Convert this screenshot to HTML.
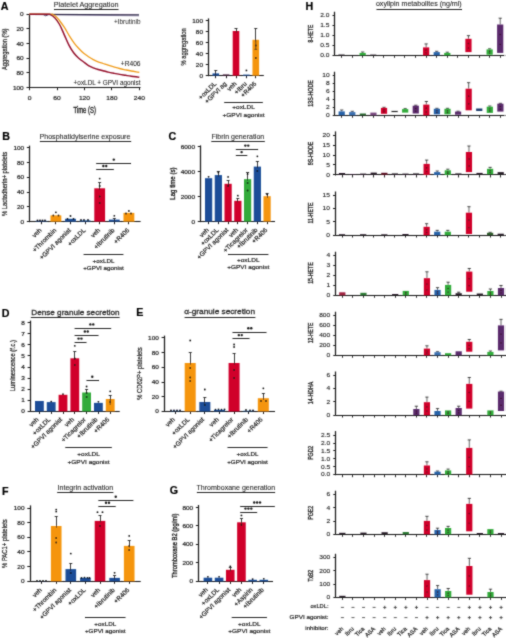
<!DOCTYPE html>
<html><head><meta charset="utf-8"><style>
html,body{margin:0;padding:0;background:#fff;width:520px;height:638px;overflow:hidden;}
svg{display:block;font-family:"Liberation Sans",sans-serif;}
</style></head><body>
<svg width="520" height="638" viewBox="0 0 520 638">
<defs><filter id="bl" x="0" y="0" width="100%" height="100%"><feConvolveMatrix order="3" kernelMatrix="0.03 0.09 0.03 0.09 0.52 0.09 0.03 0.09 0.03" divisor="1" edgeMode="duplicate" preserveAlpha="false"/></filter></defs>
<rect width="520" height="638" fill="#fff"/>
<g filter="url(#bl)">
<text transform="translate(0.80,9.60)" font-size="10.7" text-anchor="start" font-weight="bold" fill="#000" stroke="#000" stroke-width="0.2">A</text>
<text transform="translate(53.80,6.50)" font-size="7.0" text-anchor="start" font-weight="normal" fill="#2a2a2a" stroke="#2a2a2a" stroke-width="0.1" textLength="64.70" lengthAdjust="spacingAndGlyphs">Platelet Aggregation</text>
<line x1="54.00" y1="9.50" x2="118.50" y2="9.50" stroke="#222" stroke-width="1.0"/>
<line x1="29.50" y1="13.70" x2="29.50" y2="88.20" stroke="#1a1a1a" stroke-width="1.2"/>
<line x1="26.50" y1="14.50" x2="29.50" y2="14.50" stroke="#1a1a1a" stroke-width="1.0"/>
<text transform="translate(23.70,16.22) scale(1.15,1.0)" font-size="5.6" text-anchor="end" font-weight="normal" fill="#222" stroke="#222" stroke-width="0.2">0</text>
<line x1="26.50" y1="28.50" x2="29.50" y2="28.50" stroke="#1a1a1a" stroke-width="1.0"/>
<text transform="translate(23.70,30.90) scale(1.15,1.0)" font-size="5.6" text-anchor="end" font-weight="normal" fill="#222" stroke="#222" stroke-width="0.2">20</text>
<line x1="26.50" y1="43.50" x2="29.50" y2="43.50" stroke="#1a1a1a" stroke-width="1.0"/>
<text transform="translate(23.70,45.58) scale(1.15,1.0)" font-size="5.6" text-anchor="end" font-weight="normal" fill="#222" stroke="#222" stroke-width="0.2">40</text>
<line x1="26.50" y1="58.50" x2="29.50" y2="58.50" stroke="#1a1a1a" stroke-width="1.0"/>
<text transform="translate(23.70,60.26) scale(1.15,1.0)" font-size="5.6" text-anchor="end" font-weight="normal" fill="#222" stroke="#222" stroke-width="0.2">60</text>
<line x1="26.50" y1="72.50" x2="29.50" y2="72.50" stroke="#1a1a1a" stroke-width="1.0"/>
<text transform="translate(23.70,74.94) scale(1.15,1.0)" font-size="5.6" text-anchor="end" font-weight="normal" fill="#222" stroke="#222" stroke-width="0.2">80</text>
<line x1="26.50" y1="87.50" x2="29.50" y2="87.50" stroke="#1a1a1a" stroke-width="1.0"/>
<text transform="translate(23.70,89.62) scale(1.15,1.0)" font-size="5.6" text-anchor="end" font-weight="normal" fill="#222" stroke="#222" stroke-width="0.2">100</text>
<text transform="translate(6.60,49.30) rotate(-90)" font-size="7.4" text-anchor="middle" font-weight="normal" fill="#222" stroke="#222" stroke-width="0.22" textLength="41.60" lengthAdjust="spacingAndGlyphs">Aggregation (%)</text>
<line x1="29.50" y1="87.50" x2="140.50" y2="87.50" stroke="#1a1a1a" stroke-width="1.2"/>
<line x1="29.50" y1="87.60" x2="29.50" y2="90.20" stroke="#1a1a1a" stroke-width="1.0"/>
<text transform="translate(29.60,100.00) scale(1.15,1.0)" font-size="5.8" text-anchor="middle" font-weight="normal" fill="#222" stroke="#222" stroke-width="0.2">0</text>
<line x1="57.50" y1="87.60" x2="57.50" y2="90.20" stroke="#1a1a1a" stroke-width="1.0"/>
<text transform="translate(57.03,100.00) scale(1.15,1.0)" font-size="5.8" text-anchor="middle" font-weight="normal" fill="#222" stroke="#222" stroke-width="0.2">60</text>
<line x1="84.50" y1="87.60" x2="84.50" y2="90.20" stroke="#1a1a1a" stroke-width="1.0"/>
<text transform="translate(84.45,100.00) scale(1.15,1.0)" font-size="5.8" text-anchor="middle" font-weight="normal" fill="#222" stroke="#222" stroke-width="0.2">120</text>
<line x1="111.50" y1="87.60" x2="111.50" y2="90.20" stroke="#1a1a1a" stroke-width="1.0"/>
<text transform="translate(111.88,100.00) scale(1.15,1.0)" font-size="5.8" text-anchor="middle" font-weight="normal" fill="#222" stroke="#222" stroke-width="0.2">180</text>
<line x1="139.50" y1="87.60" x2="139.50" y2="90.20" stroke="#1a1a1a" stroke-width="1.0"/>
<text transform="translate(139.30,100.00) scale(1.15,1.0)" font-size="5.8" text-anchor="middle" font-weight="normal" fill="#222" stroke="#222" stroke-width="0.2">240</text>
<text transform="translate(84.70,112.60) scale(0.69,1.0)" font-size="8.6" text-anchor="middle" font-weight="normal" fill="#222" stroke="#222" stroke-width="0.35">Time (S)</text>
<polyline points="29.6,14.5 60,14.8 139,15.9" fill="none" stroke="#a49cbc" stroke-width="1.0"/>
<polyline points="29.6,14.4 139,14.9" fill="none" stroke="#2a2244" stroke-width="1.1"/>
<path d="M43.2,14.5 Q45.8,17.2 48.4,14.5" fill="none" stroke="#3a3058" stroke-width="0.9"/>
<path d="M29.60,14.20 C33.00,14.22 46.12,14.25 50.00,14.30 C53.88,14.35 51.82,14.07 52.90,14.50 C53.98,14.93 55.38,15.87 56.50,16.90 C57.62,17.93 58.28,18.95 59.60,20.70 C60.92,22.45 62.80,24.92 64.40,27.40 C66.00,29.88 67.60,33.03 69.20,35.60 C70.80,38.17 72.40,40.65 74.00,42.80 C75.60,44.95 77.18,46.75 78.80,48.50 C80.42,50.25 82.08,51.93 83.70,53.30 C85.32,54.67 86.90,55.65 88.50,56.70 C90.10,57.75 91.70,58.73 93.30,59.60 C94.90,60.47 96.48,61.25 98.10,61.90 C99.72,62.55 101.33,62.95 103.00,63.50 C104.67,64.05 106.30,64.63 108.10,65.20 C109.90,65.77 111.88,66.35 113.80,66.90 C115.72,67.45 117.67,68.02 119.60,68.50 C121.53,68.98 123.47,69.38 125.40,69.80 C127.33,70.22 129.08,70.62 131.20,71.00 C133.32,71.38 136.75,71.88 138.10,72.10 C139.45,72.32 139.10,72.27 139.30,72.30" fill="none" stroke="#f09c1c" stroke-width="1.3" stroke-linejoin="round"/>
<path d="M29.60,14.20 C32.67,14.22 44.60,14.27 48.00,14.30 C51.40,14.33 48.87,13.82 50.00,14.40 C51.13,14.98 53.20,16.12 54.80,17.80 C56.40,19.48 58.00,21.62 59.60,24.50 C61.20,27.38 62.80,31.57 64.40,35.10 C66.00,38.63 67.60,42.67 69.20,45.70 C70.80,48.73 72.40,51.22 74.00,53.30 C75.60,55.38 77.18,56.75 78.80,58.20 C80.42,59.65 82.08,60.77 83.70,62.00 C85.32,63.23 86.90,64.62 88.50,65.60 C90.10,66.58 91.70,67.25 93.30,67.90 C94.90,68.55 96.48,69.03 98.10,69.50 C99.72,69.97 101.33,70.27 103.00,70.70 C104.67,71.13 106.30,71.67 108.10,72.10 C109.90,72.53 111.88,72.92 113.80,73.30 C115.72,73.68 117.67,74.07 119.60,74.40 C121.53,74.73 123.47,75.00 125.40,75.30 C127.33,75.60 129.08,75.90 131.20,76.20 C133.32,76.50 136.75,76.92 138.10,77.10 C139.45,77.28 139.10,77.27 139.30,77.30" fill="none" stroke="#930a28" stroke-width="1.45" stroke-linejoin="round"/>
<text transform="translate(140.50,23.60) scale(1.02,1.0)" font-size="6.3" text-anchor="end" font-weight="normal" fill="#222">+Ibrutinib</text>
<text transform="translate(140.50,65.80) scale(1.02,1.0)" font-size="6.5" text-anchor="end" font-weight="normal" fill="#222" stroke="#222" stroke-width="0.05">+R406</text>
<text transform="translate(140.50,85.20)" font-size="6.4" text-anchor="end" font-weight="normal" fill="#222" stroke="#222" stroke-width="0.05">+oxLDL + GPVI agonist</text>
<line x1="208.50" y1="18.40" x2="208.50" y2="76.20" stroke="#1a1a1a" stroke-width="1.2"/>
<line x1="205.80" y1="75.50" x2="208.80" y2="75.50" stroke="#1a1a1a" stroke-width="1.0"/>
<text transform="translate(203.00,77.62) scale(1.15,1.0)" font-size="5.6" text-anchor="end" font-weight="normal" fill="#222" stroke="#222" stroke-width="0.2">0</text>
<line x1="205.80" y1="64.50" x2="208.80" y2="64.50" stroke="#1a1a1a" stroke-width="1.0"/>
<text transform="translate(203.00,66.62) scale(1.15,1.0)" font-size="5.6" text-anchor="end" font-weight="normal" fill="#222" stroke="#222" stroke-width="0.2">20</text>
<line x1="205.80" y1="53.50" x2="208.80" y2="53.50" stroke="#1a1a1a" stroke-width="1.0"/>
<text transform="translate(203.00,55.62) scale(1.15,1.0)" font-size="5.6" text-anchor="end" font-weight="normal" fill="#222" stroke="#222" stroke-width="0.2">40</text>
<line x1="205.80" y1="42.50" x2="208.80" y2="42.50" stroke="#1a1a1a" stroke-width="1.0"/>
<text transform="translate(203.00,44.62) scale(1.15,1.0)" font-size="5.6" text-anchor="end" font-weight="normal" fill="#222" stroke="#222" stroke-width="0.2">60</text>
<line x1="205.80" y1="31.50" x2="208.80" y2="31.50" stroke="#1a1a1a" stroke-width="1.0"/>
<text transform="translate(203.00,33.62) scale(1.15,1.0)" font-size="5.6" text-anchor="end" font-weight="normal" fill="#222" stroke="#222" stroke-width="0.2">80</text>
<line x1="205.80" y1="20.50" x2="208.80" y2="20.50" stroke="#1a1a1a" stroke-width="1.0"/>
<text transform="translate(203.00,22.62) scale(1.15,1.0)" font-size="5.6" text-anchor="end" font-weight="normal" fill="#222" stroke="#222" stroke-width="0.2">100</text>
<text transform="translate(185.80,46.90) rotate(-90)" font-size="7.4" text-anchor="middle" font-weight="normal" fill="#222" stroke="#222" stroke-width="0.22" textLength="37.40" lengthAdjust="spacingAndGlyphs">% aggregation</text>
<line x1="208.80" y1="75.50" x2="263.80" y2="75.50" stroke="#1a1a1a" stroke-width="1.2"/>
<line x1="215.50" y1="75.60" x2="215.50" y2="78.20" stroke="#1a1a1a" stroke-width="1.0"/>
<line x1="226.50" y1="75.60" x2="226.50" y2="78.20" stroke="#1a1a1a" stroke-width="1.0"/>
<line x1="236.50" y1="75.60" x2="236.50" y2="78.20" stroke="#1a1a1a" stroke-width="1.0"/>
<line x1="246.50" y1="75.60" x2="246.50" y2="78.20" stroke="#1a1a1a" stroke-width="1.0"/>
<line x1="255.50" y1="75.60" x2="255.50" y2="78.20" stroke="#1a1a1a" stroke-width="1.0"/>
<rect x="212.50" y="73.40" width="6.60" height="2.20" fill="#1a4e98"/>
<line x1="215.50" y1="70.20" x2="215.50" y2="74.90" stroke="#222" stroke-width="0.9"/>
<line x1="214.30" y1="70.50" x2="217.30" y2="70.50" stroke="#222" stroke-width="0.9"/>
<rect x="222.80" y="74.40" width="6.60" height="1.20" fill="#4a1f3e"/>
<rect x="232.70" y="31.00" width="6.60" height="44.60" fill="#d0062c"/>
<line x1="236.50" y1="28.60" x2="236.50" y2="32.50" stroke="#222" stroke-width="0.9"/>
<line x1="234.50" y1="28.50" x2="237.50" y2="28.50" stroke="#222" stroke-width="0.9"/>
<rect x="243.10" y="74.60" width="6.60" height="1.00" fill="#1a4e98"/>
<circle cx="246.40" cy="70.40" r="0.9" fill="#111"/>
<rect x="252.50" y="39.80" width="6.60" height="35.80" fill="#f5950a"/>
<line x1="255.50" y1="28.60" x2="255.50" y2="41.30" stroke="#222" stroke-width="0.9"/>
<line x1="254.30" y1="28.50" x2="257.30" y2="28.50" stroke="#222" stroke-width="0.9"/>
<circle cx="255.80" cy="45.50" r="0.9" fill="#111"/>
<circle cx="255.80" cy="58.00" r="0.9" fill="#111"/>
<line x1="255.80" y1="39.80" x2="255.80" y2="49.40" stroke="#222" stroke-width="0.7"/>
<line x1="254.40" y1="49.40" x2="257.20" y2="49.40" stroke="#222" stroke-width="0.7"/>
<text transform="translate(216.70,84.20) rotate(-45)" font-size="6.4" text-anchor="end" font-weight="normal" fill="#222" stroke="#222" stroke-width="0.2">+oxLDL</text>
<text transform="translate(227.00,84.20) rotate(-45)" font-size="6.4" text-anchor="end" font-weight="normal" fill="#222" stroke="#222" stroke-width="0.2">+GPVI ag</text>
<text transform="translate(236.90,84.20) rotate(-45)" font-size="6.4" text-anchor="end" font-weight="normal" fill="#222" stroke="#222" stroke-width="0.2">veh</text>
<text transform="translate(247.30,84.20) rotate(-45)" font-size="6.4" text-anchor="end" font-weight="normal" fill="#222" stroke="#222" stroke-width="0.2">+Ibru</text>
<text transform="translate(256.70,84.20) rotate(-45)" font-size="6.4" text-anchor="end" font-weight="normal" fill="#222" stroke="#222" stroke-width="0.2">+R406</text>
<line x1="224.20" y1="102.50" x2="262.80" y2="102.50" stroke="#222" stroke-width="1.1"/>
<text transform="translate(243.50,109.40) scale(1.05,1.0)" font-size="6.2" text-anchor="middle" font-weight="normal" fill="#222" stroke="#222" stroke-width="0.2">+oxLDL</text>
<text transform="translate(243.50,116.60) scale(1.05,1.0)" font-size="6.2" text-anchor="middle" font-weight="normal" fill="#222" stroke="#222" stroke-width="0.2">+GPVI agonist</text>
<text transform="translate(2.20,139.60)" font-size="10.7" text-anchor="start" font-weight="bold" fill="#000" stroke="#000" stroke-width="0.2">B</text>
<text transform="translate(39.50,138.60)" font-size="7.0" text-anchor="start" font-weight="normal" fill="#2a2a2a" stroke="#2a2a2a" stroke-width="0.1" textLength="90.90" lengthAdjust="spacingAndGlyphs">Phosphatidylserine exposure</text>
<line x1="39.90" y1="141.50" x2="131.20" y2="141.50" stroke="#222" stroke-width="1.0"/>
<line x1="29.50" y1="145.60" x2="29.50" y2="222.20" stroke="#1a1a1a" stroke-width="1.2"/>
<line x1="26.90" y1="221.50" x2="29.90" y2="221.50" stroke="#1a1a1a" stroke-width="1.0"/>
<text transform="translate(24.10,223.62) scale(1.15,1.0)" font-size="5.6" text-anchor="end" font-weight="normal" fill="#222" stroke="#222" stroke-width="0.2">0</text>
<line x1="26.90" y1="206.50" x2="29.90" y2="206.50" stroke="#1a1a1a" stroke-width="1.0"/>
<text transform="translate(24.10,208.88) scale(1.15,1.0)" font-size="5.6" text-anchor="end" font-weight="normal" fill="#222" stroke="#222" stroke-width="0.2">20</text>
<line x1="26.90" y1="192.50" x2="29.90" y2="192.50" stroke="#1a1a1a" stroke-width="1.0"/>
<text transform="translate(24.10,194.14) scale(1.15,1.0)" font-size="5.6" text-anchor="end" font-weight="normal" fill="#222" stroke="#222" stroke-width="0.2">40</text>
<line x1="26.90" y1="177.50" x2="29.90" y2="177.50" stroke="#1a1a1a" stroke-width="1.0"/>
<text transform="translate(24.10,179.40) scale(1.15,1.0)" font-size="5.6" text-anchor="end" font-weight="normal" fill="#222" stroke="#222" stroke-width="0.2">60</text>
<line x1="26.90" y1="162.50" x2="29.90" y2="162.50" stroke="#1a1a1a" stroke-width="1.0"/>
<text transform="translate(24.10,164.66) scale(1.15,1.0)" font-size="5.6" text-anchor="end" font-weight="normal" fill="#222" stroke="#222" stroke-width="0.2">80</text>
<line x1="26.90" y1="147.50" x2="29.90" y2="147.50" stroke="#1a1a1a" stroke-width="1.0"/>
<text transform="translate(24.10,149.92) scale(1.15,1.0)" font-size="5.6" text-anchor="end" font-weight="normal" fill="#222" stroke="#222" stroke-width="0.2">100</text>
<text transform="translate(6.60,183.90) rotate(-90)" font-size="7.2" text-anchor="middle" font-weight="normal" fill="#222" stroke="#222" stroke-width="0.22" textLength="64.40" lengthAdjust="spacingAndGlyphs">% Lactadherin+ platelets</text>
<line x1="29.90" y1="221.50" x2="140.60" y2="221.50" stroke="#1a1a1a" stroke-width="1.2"/>
<line x1="41.50" y1="221.60" x2="41.50" y2="224.20" stroke="#1a1a1a" stroke-width="1.0"/>
<line x1="55.50" y1="221.60" x2="55.50" y2="224.20" stroke="#1a1a1a" stroke-width="1.0"/>
<line x1="70.50" y1="221.60" x2="70.50" y2="224.20" stroke="#1a1a1a" stroke-width="1.0"/>
<line x1="85.50" y1="221.60" x2="85.50" y2="224.20" stroke="#1a1a1a" stroke-width="1.0"/>
<line x1="99.50" y1="221.60" x2="99.50" y2="224.20" stroke="#1a1a1a" stroke-width="1.0"/>
<line x1="114.50" y1="221.60" x2="114.50" y2="224.20" stroke="#1a1a1a" stroke-width="1.0"/>
<line x1="128.50" y1="221.60" x2="128.50" y2="224.20" stroke="#1a1a1a" stroke-width="1.0"/>
<rect x="35.90" y="220.80" width="10.80" height="0.80" fill="#1a4e98"/>
<circle cx="37.50" cy="220.50" r="0.9" fill="#111"/>
<circle cx="40.00" cy="220.50" r="0.9" fill="#111"/>
<circle cx="42.50" cy="220.50" r="0.9" fill="#111"/>
<circle cx="45.00" cy="220.50" r="0.9" fill="#111"/>
<rect x="50.50" y="215.40" width="10.80" height="6.20" fill="#f5950a"/>
<circle cx="55.90" cy="212.30" r="0.9" fill="#111"/>
<circle cx="53.30" cy="215.50" r="0.9" fill="#111"/>
<circle cx="58.50" cy="215.50" r="0.9" fill="#111"/>
<rect x="65.10" y="218.80" width="10.80" height="2.80" fill="#1a4e98"/>
<circle cx="70.50" cy="216.00" r="0.9" fill="#111"/>
<circle cx="67.50" cy="219.00" r="0.9" fill="#111"/>
<circle cx="73.50" cy="219.00" r="0.9" fill="#111"/>
<rect x="79.70" y="220.40" width="10.80" height="1.20" fill="#1a4e98"/>
<circle cx="81.00" cy="220.00" r="0.9" fill="#111"/>
<circle cx="84.00" cy="220.00" r="0.9" fill="#111"/>
<circle cx="88.00" cy="220.00" r="0.9" fill="#111"/>
<rect x="94.30" y="188.30" width="10.80" height="33.30" fill="#d0062c"/>
<line x1="99.50" y1="182.80" x2="99.50" y2="189.80" stroke="#222" stroke-width="0.9"/>
<line x1="98.20" y1="182.50" x2="101.20" y2="182.50" stroke="#222" stroke-width="0.9"/>
<circle cx="99.70" cy="178.60" r="0.9" fill="#111"/>
<circle cx="99.70" cy="186.00" r="0.9" fill="#111"/>
<circle cx="99.70" cy="196.50" r="0.9" fill="#111"/>
<circle cx="99.70" cy="203.00" r="0.9" fill="#111"/>
<rect x="108.90" y="219.60" width="10.80" height="2.00" fill="#1a4e98"/>
<line x1="114.50" y1="218.00" x2="114.50" y2="221.10" stroke="#222" stroke-width="0.9"/>
<line x1="112.80" y1="218.50" x2="115.80" y2="218.50" stroke="#222" stroke-width="0.9"/>
<circle cx="114.30" cy="215.80" r="0.9" fill="#111"/>
<rect x="123.50" y="212.90" width="10.80" height="8.70" fill="#f5950a"/>
<circle cx="128.90" cy="211.00" r="0.9" fill="#111"/>
<circle cx="126.00" cy="213.50" r="0.9" fill="#111"/>
<circle cx="131.00" cy="213.50" r="0.9" fill="#111"/>
<line x1="96.20" y1="163.50" x2="131.00" y2="163.50" stroke="#222" stroke-width="1.0"/>
<circle cx="113.80" cy="159.60" r="1.2" fill="#1a1a1a"/>
<line x1="96.20" y1="169.50" x2="113.80" y2="169.50" stroke="#222" stroke-width="1.0"/>
<circle cx="103.35" cy="166.00" r="1.2" fill="#1a1a1a"/>
<circle cx="106.25" cy="166.00" r="1.2" fill="#1a1a1a"/>
<text transform="translate(42.10,230.80) rotate(-45)" font-size="6.4" text-anchor="end" font-weight="normal" fill="#222" stroke="#222" stroke-width="0.2">veh</text>
<text transform="translate(56.70,230.80) rotate(-45)" font-size="6.4" text-anchor="end" font-weight="normal" fill="#222" stroke="#222" stroke-width="0.2">+Thrombin</text>
<text transform="translate(71.30,230.80) rotate(-45)" font-size="6.4" text-anchor="end" font-weight="normal" fill="#222" stroke="#222" stroke-width="0.2">+GPVI agonist</text>
<text transform="translate(85.90,230.80) rotate(-45)" font-size="6.4" text-anchor="end" font-weight="normal" fill="#222" stroke="#222" stroke-width="0.2">+oxLDL</text>
<text transform="translate(100.50,230.80) rotate(-45)" font-size="6.4" text-anchor="end" font-weight="normal" fill="#222" stroke="#222" stroke-width="0.2">veh</text>
<text transform="translate(115.10,230.80) rotate(-45)" font-size="6.4" text-anchor="end" font-weight="normal" fill="#222" stroke="#222" stroke-width="0.2">+Ibrutinib</text>
<text transform="translate(129.70,230.80) rotate(-45)" font-size="6.4" text-anchor="end" font-weight="normal" fill="#222" stroke="#222" stroke-width="0.2">+R406</text>
<line x1="83.60" y1="254.50" x2="123.40" y2="254.50" stroke="#222" stroke-width="1.1"/>
<text transform="translate(103.50,262.90) scale(1.05,1.0)" font-size="6.0" text-anchor="middle" font-weight="normal" fill="#222" stroke="#222" stroke-width="0.2">+oxLDL</text>
<text transform="translate(103.50,270.20) scale(1.05,1.0)" font-size="6.0" text-anchor="middle" font-weight="normal" fill="#222" stroke="#222" stroke-width="0.2">+GPVI agonist</text>
<text transform="translate(168.60,140.20)" font-size="10.7" text-anchor="start" font-weight="bold" fill="#000" stroke="#000" stroke-width="0.2">C</text>
<text transform="translate(211.50,138.60)" font-size="7.0" text-anchor="start" font-weight="normal" fill="#2a2a2a" stroke="#2a2a2a" stroke-width="0.1" textLength="52.70" lengthAdjust="spacingAndGlyphs">Fibrin generation</text>
<line x1="211.30" y1="141.50" x2="264.80" y2="141.50" stroke="#222" stroke-width="1.0"/>
<line x1="200.50" y1="145.40" x2="200.50" y2="222.10" stroke="#1a1a1a" stroke-width="1.2"/>
<line x1="197.80" y1="221.50" x2="200.80" y2="221.50" stroke="#1a1a1a" stroke-width="1.0"/>
<text transform="translate(195.00,223.52) scale(1.15,1.0)" font-size="5.6" text-anchor="end" font-weight="normal" fill="#222" stroke="#222" stroke-width="0.2">0</text>
<line x1="197.80" y1="196.50" x2="200.80" y2="196.50" stroke="#1a1a1a" stroke-width="1.0"/>
<text transform="translate(195.00,198.65) scale(1.15,1.0)" font-size="5.6" text-anchor="end" font-weight="normal" fill="#222" stroke="#222" stroke-width="0.2">2000</text>
<line x1="197.80" y1="171.50" x2="200.80" y2="171.50" stroke="#1a1a1a" stroke-width="1.0"/>
<text transform="translate(195.00,173.78) scale(1.15,1.0)" font-size="5.6" text-anchor="end" font-weight="normal" fill="#222" stroke="#222" stroke-width="0.2">4000</text>
<line x1="197.80" y1="146.50" x2="200.80" y2="146.50" stroke="#1a1a1a" stroke-width="1.0"/>
<text transform="translate(195.00,148.92) scale(1.15,1.0)" font-size="5.6" text-anchor="end" font-weight="normal" fill="#222" stroke="#222" stroke-width="0.2">6000</text>
<text transform="translate(175.30,183.60) rotate(-90)" font-size="7.9" text-anchor="middle" font-weight="normal" fill="#222" stroke="#222" stroke-width="0.35" textLength="32.20" lengthAdjust="spacingAndGlyphs">Lag time (s)</text>
<line x1="200.80" y1="221.50" x2="275.00" y2="221.50" stroke="#1a1a1a" stroke-width="1.2"/>
<line x1="208.50" y1="221.50" x2="208.50" y2="224.10" stroke="#1a1a1a" stroke-width="1.0"/>
<line x1="218.50" y1="221.50" x2="218.50" y2="224.10" stroke="#1a1a1a" stroke-width="1.0"/>
<line x1="228.50" y1="221.50" x2="228.50" y2="224.10" stroke="#1a1a1a" stroke-width="1.0"/>
<line x1="237.50" y1="221.50" x2="237.50" y2="224.10" stroke="#1a1a1a" stroke-width="1.0"/>
<line x1="247.50" y1="221.50" x2="247.50" y2="224.10" stroke="#1a1a1a" stroke-width="1.0"/>
<line x1="257.50" y1="221.50" x2="257.50" y2="224.10" stroke="#1a1a1a" stroke-width="1.0"/>
<line x1="267.50" y1="221.50" x2="267.50" y2="224.10" stroke="#1a1a1a" stroke-width="1.0"/>
<rect x="205.00" y="178.20" width="7.20" height="43.30" fill="#1a4e98"/>
<circle cx="208.60" cy="176.80" r="0.9" fill="#111"/>
<rect x="214.75" y="175.10" width="7.20" height="46.40" fill="#1a4e98"/>
<line x1="218.50" y1="171.60" x2="218.50" y2="176.60" stroke="#222" stroke-width="0.9"/>
<line x1="216.85" y1="171.50" x2="219.85" y2="171.50" stroke="#222" stroke-width="0.9"/>
<circle cx="218.35" cy="172.50" r="0.9" fill="#111"/>
<rect x="224.50" y="183.80" width="7.20" height="37.70" fill="#d0062c"/>
<line x1="228.50" y1="180.30" x2="228.50" y2="185.30" stroke="#222" stroke-width="0.9"/>
<line x1="226.60" y1="180.50" x2="229.60" y2="180.50" stroke="#222" stroke-width="0.9"/>
<circle cx="228.10" cy="176.90" r="0.9" fill="#111"/>
<circle cx="228.10" cy="186.00" r="0.9" fill="#111"/>
<rect x="234.25" y="200.80" width="7.20" height="20.70" fill="#d0062c"/>
<line x1="237.50" y1="198.20" x2="237.50" y2="202.30" stroke="#222" stroke-width="0.9"/>
<line x1="236.35" y1="198.50" x2="239.35" y2="198.50" stroke="#222" stroke-width="0.9"/>
<circle cx="237.85" cy="195.70" r="0.9" fill="#111"/>
<rect x="244.00" y="179.20" width="7.20" height="42.30" fill="#30ab3a"/>
<line x1="247.50" y1="172.80" x2="247.50" y2="180.70" stroke="#222" stroke-width="0.9"/>
<line x1="246.10" y1="172.50" x2="249.10" y2="172.50" stroke="#222" stroke-width="0.9"/>
<circle cx="247.60" cy="174.00" r="0.9" fill="#111"/>
<circle cx="247.60" cy="183.00" r="0.9" fill="#111"/>
<circle cx="247.60" cy="190.50" r="0.9" fill="#111"/>
<rect x="253.75" y="166.60" width="7.20" height="54.90" fill="#1a4e98"/>
<line x1="257.50" y1="161.20" x2="257.50" y2="168.10" stroke="#222" stroke-width="0.9"/>
<line x1="255.85" y1="161.50" x2="258.85" y2="161.50" stroke="#222" stroke-width="0.9"/>
<circle cx="257.35" cy="156.30" r="0.9" fill="#111"/>
<circle cx="257.35" cy="171.00" r="0.9" fill="#111"/>
<rect x="263.50" y="196.20" width="7.20" height="25.30" fill="#f5950a"/>
<line x1="267.50" y1="193.80" x2="267.50" y2="197.70" stroke="#222" stroke-width="0.9"/>
<line x1="265.60" y1="193.50" x2="268.60" y2="193.50" stroke="#222" stroke-width="0.9"/>
<circle cx="267.10" cy="194.50" r="0.9" fill="#111"/>
<line x1="235.80" y1="149.50" x2="258.10" y2="149.50" stroke="#222" stroke-width="1.0"/>
<circle cx="245.35" cy="145.60" r="1.2" fill="#1a1a1a"/>
<circle cx="248.25" cy="145.60" r="1.2" fill="#1a1a1a"/>
<line x1="235.80" y1="155.50" x2="247.30" y2="155.50" stroke="#222" stroke-width="1.0"/>
<circle cx="241.60" cy="152.10" r="1.2" fill="#1a1a1a"/>
<text transform="translate(209.20,230.40) rotate(-45)" font-size="6.4" text-anchor="end" font-weight="normal" fill="#222" stroke="#222" stroke-width="0.2">veh</text>
<text transform="translate(218.95,230.40) rotate(-45)" font-size="6.4" text-anchor="end" font-weight="normal" fill="#222" stroke="#222" stroke-width="0.2">+oxLDL</text>
<text transform="translate(228.70,230.40) rotate(-45)" font-size="6.4" text-anchor="end" font-weight="normal" fill="#222" stroke="#222" stroke-width="0.2">+GPVI agonist</text>
<text transform="translate(238.45,230.40) rotate(-45)" font-size="6.4" text-anchor="end" font-weight="normal" fill="#222" stroke="#222" stroke-width="0.2">veh</text>
<text transform="translate(248.20,230.40) rotate(-45)" font-size="6.4" text-anchor="end" font-weight="normal" fill="#222" stroke="#222" stroke-width="0.2">+Ticagrelor</text>
<text transform="translate(257.95,230.40) rotate(-45)" font-size="6.4" text-anchor="end" font-weight="normal" fill="#222" stroke="#222" stroke-width="0.2">+Ibrutinib</text>
<text transform="translate(267.70,230.40) rotate(-45)" font-size="6.4" text-anchor="end" font-weight="normal" fill="#222" stroke="#222" stroke-width="0.2">+R406</text>
<line x1="228.00" y1="254.50" x2="268.40" y2="254.50" stroke="#222" stroke-width="1.1"/>
<text transform="translate(248.20,262.20) scale(1.05,1.0)" font-size="6.2" text-anchor="middle" font-weight="normal" fill="#222" stroke="#222" stroke-width="0.2">+oxLDL</text>
<text transform="translate(248.20,269.00) scale(1.05,1.0)" font-size="6.2" text-anchor="middle" font-weight="normal" fill="#222" stroke="#222" stroke-width="0.2">+GPVI agonist</text>
<text transform="translate(1.80,316.80)" font-size="10.7" text-anchor="start" font-weight="bold" fill="#000" stroke="#000" stroke-width="0.2">D</text>
<text transform="translate(31.30,314.60)" font-size="8.0" text-anchor="start" font-weight="normal" fill="#2a2a2a" stroke="#2a2a2a" stroke-width="0.3" textLength="88.30" lengthAdjust="spacingAndGlyphs">Dense granule secretion</text>
<line x1="30.80" y1="317.50" x2="119.60" y2="317.50" stroke="#222" stroke-width="1.0"/>
<line x1="30.50" y1="320.60" x2="30.50" y2="411.90" stroke="#1a1a1a" stroke-width="1.2"/>
<line x1="27.60" y1="411.50" x2="30.60" y2="411.50" stroke="#1a1a1a" stroke-width="1.0"/>
<text transform="translate(24.80,413.32) scale(1.15,1.0)" font-size="5.6" text-anchor="end" font-weight="normal" fill="#222" stroke="#222" stroke-width="0.2">0</text>
<line x1="27.60" y1="400.50" x2="30.60" y2="400.50" stroke="#1a1a1a" stroke-width="1.0"/>
<text transform="translate(24.80,402.24) scale(1.15,1.0)" font-size="5.6" text-anchor="end" font-weight="normal" fill="#222" stroke="#222" stroke-width="0.2">1</text>
<line x1="27.60" y1="389.50" x2="30.60" y2="389.50" stroke="#1a1a1a" stroke-width="1.0"/>
<text transform="translate(24.80,391.17) scale(1.15,1.0)" font-size="5.6" text-anchor="end" font-weight="normal" fill="#222" stroke="#222" stroke-width="0.2">2</text>
<line x1="27.60" y1="378.50" x2="30.60" y2="378.50" stroke="#1a1a1a" stroke-width="1.0"/>
<text transform="translate(24.80,380.09) scale(1.15,1.0)" font-size="5.6" text-anchor="end" font-weight="normal" fill="#222" stroke="#222" stroke-width="0.2">3</text>
<line x1="27.60" y1="367.50" x2="30.60" y2="367.50" stroke="#1a1a1a" stroke-width="1.0"/>
<text transform="translate(24.80,369.02) scale(1.15,1.0)" font-size="5.6" text-anchor="end" font-weight="normal" fill="#222" stroke="#222" stroke-width="0.2">4</text>
<line x1="27.60" y1="355.50" x2="30.60" y2="355.50" stroke="#1a1a1a" stroke-width="1.0"/>
<text transform="translate(24.80,357.94) scale(1.15,1.0)" font-size="5.6" text-anchor="end" font-weight="normal" fill="#222" stroke="#222" stroke-width="0.2">5</text>
<line x1="27.60" y1="344.50" x2="30.60" y2="344.50" stroke="#1a1a1a" stroke-width="1.0"/>
<text transform="translate(24.80,346.87) scale(1.15,1.0)" font-size="5.6" text-anchor="end" font-weight="normal" fill="#222" stroke="#222" stroke-width="0.2">6</text>
<line x1="27.60" y1="333.50" x2="30.60" y2="333.50" stroke="#1a1a1a" stroke-width="1.0"/>
<text transform="translate(24.80,335.79) scale(1.15,1.0)" font-size="5.6" text-anchor="end" font-weight="normal" fill="#222" stroke="#222" stroke-width="0.2">7</text>
<line x1="27.60" y1="322.50" x2="30.60" y2="322.50" stroke="#1a1a1a" stroke-width="1.0"/>
<text transform="translate(24.80,324.72) scale(1.15,1.0)" font-size="5.6" text-anchor="end" font-weight="normal" fill="#222" stroke="#222" stroke-width="0.2">8</text>
<text transform="translate(14.80,365.60) rotate(-90)" font-size="7.4" text-anchor="middle" font-weight="normal" fill="#222" stroke="#222" stroke-width="0.22" textLength="51.30" lengthAdjust="spacingAndGlyphs">Luminescence (f.c.)</text>
<line x1="30.60" y1="411.50" x2="119.70" y2="411.50" stroke="#1a1a1a" stroke-width="1.2"/>
<line x1="39.50" y1="411.30" x2="39.50" y2="413.90" stroke="#1a1a1a" stroke-width="1.0"/>
<line x1="51.50" y1="411.30" x2="51.50" y2="413.90" stroke="#1a1a1a" stroke-width="1.0"/>
<line x1="63.50" y1="411.30" x2="63.50" y2="413.90" stroke="#1a1a1a" stroke-width="1.0"/>
<line x1="74.50" y1="411.30" x2="74.50" y2="413.90" stroke="#1a1a1a" stroke-width="1.0"/>
<line x1="86.50" y1="411.30" x2="86.50" y2="413.90" stroke="#1a1a1a" stroke-width="1.0"/>
<line x1="98.50" y1="411.30" x2="98.50" y2="413.90" stroke="#1a1a1a" stroke-width="1.0"/>
<line x1="110.50" y1="411.30" x2="110.50" y2="413.90" stroke="#1a1a1a" stroke-width="1.0"/>
<rect x="35.00" y="401.00" width="8.80" height="10.30" fill="#1a4e98"/>
<rect x="46.80" y="402.10" width="8.80" height="9.20" fill="#1a4e98"/>
<circle cx="51.20" cy="401.60" r="0.9" fill="#111"/>
<rect x="58.60" y="394.80" width="8.80" height="16.50" fill="#d0062c"/>
<circle cx="63.00" cy="394.20" r="0.9" fill="#111"/>
<rect x="70.40" y="358.30" width="8.80" height="53.00" fill="#d0062c"/>
<line x1="74.50" y1="351.40" x2="74.50" y2="359.80" stroke="#222" stroke-width="0.9"/>
<line x1="73.30" y1="351.50" x2="76.30" y2="351.50" stroke="#222" stroke-width="0.9"/>
<circle cx="74.80" cy="345.80" r="0.9" fill="#111"/>
<circle cx="74.80" cy="358.50" r="0.9" fill="#111"/>
<circle cx="74.80" cy="365.00" r="0.9" fill="#111"/>
<rect x="82.20" y="392.50" width="8.80" height="18.80" fill="#30ab3a"/>
<line x1="86.50" y1="389.00" x2="86.50" y2="394.00" stroke="#222" stroke-width="0.9"/>
<line x1="85.10" y1="389.50" x2="88.10" y2="389.50" stroke="#222" stroke-width="0.9"/>
<circle cx="86.60" cy="386.50" r="0.9" fill="#111"/>
<circle cx="86.60" cy="393.00" r="0.9" fill="#111"/>
<circle cx="86.60" cy="397.00" r="0.9" fill="#111"/>
<rect x="94.00" y="402.90" width="8.80" height="8.40" fill="#1a4e98"/>
<circle cx="98.40" cy="401.80" r="0.9" fill="#111"/>
<rect x="105.80" y="399.00" width="8.80" height="12.30" fill="#f5950a"/>
<line x1="110.50" y1="395.20" x2="110.50" y2="400.50" stroke="#222" stroke-width="0.9"/>
<line x1="108.70" y1="395.50" x2="111.70" y2="395.50" stroke="#222" stroke-width="0.9"/>
<circle cx="110.20" cy="391.30" r="0.9" fill="#111"/>
<circle cx="110.20" cy="402.00" r="0.9" fill="#111"/>
<line x1="110.20" y1="399.00" x2="110.20" y2="405.00" stroke="#222" stroke-width="0.7"/>
<line x1="74.60" y1="328.50" x2="111.20" y2="328.50" stroke="#222" stroke-width="1.0"/>
<circle cx="90.35" cy="324.40" r="1.2" fill="#1a1a1a"/>
<circle cx="93.25" cy="324.40" r="1.2" fill="#1a1a1a"/>
<line x1="74.60" y1="335.50" x2="98.50" y2="335.50" stroke="#222" stroke-width="1.0"/>
<circle cx="84.85" cy="331.50" r="1.2" fill="#1a1a1a"/>
<circle cx="87.75" cy="331.50" r="1.2" fill="#1a1a1a"/>
<line x1="74.60" y1="342.50" x2="86.50" y2="342.50" stroke="#222" stroke-width="1.0"/>
<circle cx="78.55" cy="338.60" r="1.2" fill="#1a1a1a"/>
<circle cx="81.45" cy="338.60" r="1.2" fill="#1a1a1a"/>
<line x1="86.50" y1="380.50" x2="99.00" y2="380.50" stroke="#222" stroke-width="1.0"/>
<circle cx="92.30" cy="376.70" r="1.2" fill="#1a1a1a"/>
<text transform="translate(39.00,420.00) rotate(-45)" font-size="6.4" text-anchor="end" font-weight="normal" fill="#222" stroke="#222" stroke-width="0.2">veh</text>
<text transform="translate(50.80,420.00) rotate(-45)" font-size="6.4" text-anchor="end" font-weight="normal" fill="#222" stroke="#222" stroke-width="0.2">+oxLDL</text>
<text transform="translate(62.60,420.00) rotate(-45)" font-size="6.4" text-anchor="end" font-weight="normal" fill="#222" stroke="#222" stroke-width="0.2">+GPVI agonist</text>
<text transform="translate(74.40,420.00) rotate(-45)" font-size="6.4" text-anchor="end" font-weight="normal" fill="#222" stroke="#222" stroke-width="0.2">veh</text>
<text transform="translate(86.20,420.00) rotate(-45)" font-size="6.4" text-anchor="end" font-weight="normal" fill="#222" stroke="#222" stroke-width="0.2">+Ticagrelor</text>
<text transform="translate(98.00,420.00) rotate(-45)" font-size="6.4" text-anchor="end" font-weight="normal" fill="#222" stroke="#222" stroke-width="0.2">+Ibrutinib</text>
<text transform="translate(109.80,420.00) rotate(-45)" font-size="6.4" text-anchor="end" font-weight="normal" fill="#222" stroke="#222" stroke-width="0.2">+R406</text>
<line x1="65.30" y1="447.50" x2="111.80" y2="447.50" stroke="#222" stroke-width="1.1"/>
<text transform="translate(88.55,455.90) scale(1.05,1.0)" font-size="6.2" text-anchor="middle" font-weight="normal" fill="#222" stroke="#222" stroke-width="0.2">+oxLDL</text>
<text transform="translate(88.55,464.00) scale(1.05,1.0)" font-size="6.2" text-anchor="middle" font-weight="normal" fill="#222" stroke="#222" stroke-width="0.2">+GPVI agonist</text>
<text transform="translate(136.20,315.60)" font-size="10.7" text-anchor="start" font-weight="bold" fill="#000" stroke="#000" stroke-width="0.2">E</text>
<text transform="translate(184.20,314.20)" font-size="8.0" text-anchor="start" font-weight="normal" fill="#2a2a2a" stroke="#2a2a2a" stroke-width="0.3" textLength="70.80" lengthAdjust="spacingAndGlyphs">α-granule secretion</text>
<line x1="184.60" y1="317.50" x2="255.40" y2="317.50" stroke="#222" stroke-width="1.0"/>
<line x1="164.50" y1="335.60" x2="164.50" y2="412.00" stroke="#1a1a1a" stroke-width="1.2"/>
<line x1="161.60" y1="411.50" x2="164.60" y2="411.50" stroke="#1a1a1a" stroke-width="1.0"/>
<text transform="translate(158.80,413.42) scale(1.15,1.0)" font-size="5.6" text-anchor="end" font-weight="normal" fill="#222" stroke="#222" stroke-width="0.2">0</text>
<line x1="161.60" y1="396.50" x2="164.60" y2="396.50" stroke="#1a1a1a" stroke-width="1.0"/>
<text transform="translate(158.80,398.72) scale(1.15,1.0)" font-size="5.6" text-anchor="end" font-weight="normal" fill="#222" stroke="#222" stroke-width="0.2">20</text>
<line x1="161.60" y1="382.50" x2="164.60" y2="382.50" stroke="#1a1a1a" stroke-width="1.0"/>
<text transform="translate(158.80,384.02) scale(1.15,1.0)" font-size="5.6" text-anchor="end" font-weight="normal" fill="#222" stroke="#222" stroke-width="0.2">40</text>
<line x1="161.60" y1="367.50" x2="164.60" y2="367.50" stroke="#1a1a1a" stroke-width="1.0"/>
<text transform="translate(158.80,369.32) scale(1.15,1.0)" font-size="5.6" text-anchor="end" font-weight="normal" fill="#222" stroke="#222" stroke-width="0.2">60</text>
<line x1="161.60" y1="352.50" x2="164.60" y2="352.50" stroke="#1a1a1a" stroke-width="1.0"/>
<text transform="translate(158.80,354.62) scale(1.15,1.0)" font-size="5.6" text-anchor="end" font-weight="normal" fill="#222" stroke="#222" stroke-width="0.2">80</text>
<line x1="161.60" y1="337.50" x2="164.60" y2="337.50" stroke="#1a1a1a" stroke-width="1.0"/>
<text transform="translate(158.80,339.92) scale(1.15,1.0)" font-size="5.6" text-anchor="end" font-weight="normal" fill="#222" stroke="#222" stroke-width="0.2">100</text>
<text transform="translate(141.80,373.50) rotate(-90)" font-size="7.4" text-anchor="middle" font-weight="normal" fill="#222" stroke="#222" stroke-width="0.22" textLength="52.50" lengthAdjust="spacingAndGlyphs">% CD62P+ platelets</text>
<line x1="164.60" y1="411.50" x2="275.00" y2="411.50" stroke="#1a1a1a" stroke-width="1.2"/>
<line x1="175.50" y1="411.40" x2="175.50" y2="414.00" stroke="#1a1a1a" stroke-width="1.0"/>
<line x1="190.50" y1="411.40" x2="190.50" y2="414.00" stroke="#1a1a1a" stroke-width="1.0"/>
<line x1="204.50" y1="411.40" x2="204.50" y2="414.00" stroke="#1a1a1a" stroke-width="1.0"/>
<line x1="219.50" y1="411.40" x2="219.50" y2="414.00" stroke="#1a1a1a" stroke-width="1.0"/>
<line x1="234.50" y1="411.40" x2="234.50" y2="414.00" stroke="#1a1a1a" stroke-width="1.0"/>
<line x1="248.50" y1="411.40" x2="248.50" y2="414.00" stroke="#1a1a1a" stroke-width="1.0"/>
<line x1="263.50" y1="411.40" x2="263.50" y2="414.00" stroke="#1a1a1a" stroke-width="1.0"/>
<rect x="170.10" y="410.80" width="11.00" height="0.60" fill="#1a4e98"/>
<circle cx="171.00" cy="410.50" r="0.9" fill="#111"/>
<circle cx="174.00" cy="410.50" r="0.9" fill="#111"/>
<circle cx="177.00" cy="410.50" r="0.9" fill="#111"/>
<circle cx="180.00" cy="410.50" r="0.9" fill="#111"/>
<rect x="184.72" y="363.00" width="11.00" height="48.40" fill="#f5950a"/>
<line x1="190.50" y1="352.80" x2="190.50" y2="364.50" stroke="#222" stroke-width="0.9"/>
<line x1="188.72" y1="352.50" x2="191.72" y2="352.50" stroke="#222" stroke-width="0.9"/>
<circle cx="190.22" cy="340.50" r="0.9" fill="#111"/>
<circle cx="190.22" cy="368.00" r="0.9" fill="#111"/>
<circle cx="190.22" cy="377.50" r="0.9" fill="#111"/>
<circle cx="190.22" cy="381.00" r="0.9" fill="#111"/>
<rect x="199.34" y="402.00" width="11.00" height="9.40" fill="#1a4e98"/>
<line x1="204.50" y1="397.50" x2="204.50" y2="403.50" stroke="#222" stroke-width="0.9"/>
<line x1="203.34" y1="397.50" x2="206.34" y2="397.50" stroke="#222" stroke-width="0.9"/>
<circle cx="204.84" cy="389.50" r="0.9" fill="#111"/>
<circle cx="204.84" cy="405.00" r="0.9" fill="#111"/>
<rect x="213.96" y="410.00" width="11.00" height="1.40" fill="#1a4e98"/>
<circle cx="215.50" cy="409.60" r="0.9" fill="#111"/>
<circle cx="218.50" cy="409.30" r="0.9" fill="#111"/>
<circle cx="221.50" cy="409.60" r="0.9" fill="#111"/>
<circle cx="224.50" cy="409.40" r="0.9" fill="#111"/>
<rect x="228.58" y="363.00" width="11.00" height="48.40" fill="#d0062c"/>
<line x1="234.50" y1="353.20" x2="234.50" y2="364.50" stroke="#222" stroke-width="0.9"/>
<line x1="232.58" y1="353.50" x2="235.58" y2="353.50" stroke="#222" stroke-width="0.9"/>
<circle cx="234.08" cy="344.50" r="0.9" fill="#111"/>
<circle cx="234.08" cy="347.00" r="0.9" fill="#111"/>
<circle cx="234.08" cy="370.00" r="0.9" fill="#111"/>
<circle cx="234.08" cy="378.00" r="0.9" fill="#111"/>
<rect x="243.20" y="410.80" width="11.00" height="0.60" fill="#1a4e98"/>
<circle cx="246.00" cy="410.00" r="0.9" fill="#111"/>
<circle cx="250.00" cy="410.30" r="0.9" fill="#111"/>
<circle cx="253.00" cy="410.50" r="0.9" fill="#111"/>
<rect x="257.82" y="398.20" width="11.00" height="13.20" fill="#f5950a"/>
<line x1="263.50" y1="393.20" x2="263.50" y2="399.70" stroke="#222" stroke-width="0.9"/>
<line x1="261.82" y1="393.50" x2="264.82" y2="393.50" stroke="#222" stroke-width="0.9"/>
<circle cx="263.32" cy="388.30" r="0.9" fill="#111"/>
<circle cx="261.00" cy="401.00" r="0.9" fill="#111"/>
<circle cx="266.00" cy="401.00" r="0.9" fill="#111"/>
<line x1="232.50" y1="332.50" x2="266.50" y2="332.50" stroke="#222" stroke-width="1.0"/>
<circle cx="248.35" cy="328.30" r="1.2" fill="#1a1a1a"/>
<circle cx="251.25" cy="328.30" r="1.2" fill="#1a1a1a"/>
<line x1="232.50" y1="338.50" x2="249.50" y2="338.50" stroke="#222" stroke-width="1.0"/>
<circle cx="238.85" cy="335.10" r="1.2" fill="#1a1a1a"/>
<circle cx="241.75" cy="335.10" r="1.2" fill="#1a1a1a"/>
<text transform="translate(175.30,420.00) rotate(-45)" font-size="6.4" text-anchor="end" font-weight="normal" fill="#222" stroke="#222" stroke-width="0.2">veh</text>
<text transform="translate(189.92,420.00) rotate(-45)" font-size="6.4" text-anchor="end" font-weight="normal" fill="#222" stroke="#222" stroke-width="0.2">+oxLDL</text>
<text transform="translate(204.54,420.00) rotate(-45)" font-size="6.4" text-anchor="end" font-weight="normal" fill="#222" stroke="#222" stroke-width="0.2">+GPVI agonist</text>
<text transform="translate(219.16,420.00) rotate(-45)" font-size="6.4" text-anchor="end" font-weight="normal" fill="#222" stroke="#222" stroke-width="0.2">veh</text>
<text transform="translate(233.78,420.00) rotate(-45)" font-size="6.4" text-anchor="end" font-weight="normal" fill="#222" stroke="#222" stroke-width="0.2">+Ticagrelor</text>
<text transform="translate(248.40,420.00) rotate(-45)" font-size="6.4" text-anchor="end" font-weight="normal" fill="#222" stroke="#222" stroke-width="0.2">+Ibrutinib</text>
<text transform="translate(263.02,420.00) rotate(-45)" font-size="6.4" text-anchor="end" font-weight="normal" fill="#222" stroke="#222" stroke-width="0.2">+R406</text>
<line x1="227.50" y1="447.50" x2="267.50" y2="447.50" stroke="#222" stroke-width="1.1"/>
<text transform="translate(247.50,455.50) scale(1.05,1.0)" font-size="6.0" text-anchor="middle" font-weight="normal" fill="#222" stroke="#222" stroke-width="0.2">+oxLDL</text>
<text transform="translate(247.50,463.80) scale(1.05,1.0)" font-size="6.0" text-anchor="middle" font-weight="normal" fill="#222" stroke="#222" stroke-width="0.2">+GPVI agonist</text>
<text transform="translate(2.00,494.60)" font-size="10.7" text-anchor="start" font-weight="bold" fill="#000" stroke="#000" stroke-width="0.2">F</text>
<text transform="translate(57.50,489.80)" font-size="6.8" text-anchor="start" font-weight="normal" fill="#2a2a2a" stroke="#2a2a2a" stroke-width="0.1" textLength="55.70" lengthAdjust="spacingAndGlyphs">Integrin activation</text>
<line x1="57.20" y1="492.50" x2="113.40" y2="492.50" stroke="#222" stroke-width="1.0"/>
<line x1="30.50" y1="505.40" x2="30.50" y2="581.80" stroke="#1a1a1a" stroke-width="1.2"/>
<line x1="27.30" y1="581.50" x2="30.30" y2="581.50" stroke="#1a1a1a" stroke-width="1.0"/>
<text transform="translate(24.50,583.22) scale(1.15,1.0)" font-size="5.6" text-anchor="end" font-weight="normal" fill="#222" stroke="#222" stroke-width="0.2">0</text>
<line x1="27.30" y1="566.50" x2="30.30" y2="566.50" stroke="#1a1a1a" stroke-width="1.0"/>
<text transform="translate(24.50,568.60) scale(1.15,1.0)" font-size="5.6" text-anchor="end" font-weight="normal" fill="#222" stroke="#222" stroke-width="0.2">20</text>
<line x1="27.30" y1="551.50" x2="30.30" y2="551.50" stroke="#1a1a1a" stroke-width="1.0"/>
<text transform="translate(24.50,553.98) scale(1.15,1.0)" font-size="5.6" text-anchor="end" font-weight="normal" fill="#222" stroke="#222" stroke-width="0.2">40</text>
<line x1="27.30" y1="537.50" x2="30.30" y2="537.50" stroke="#1a1a1a" stroke-width="1.0"/>
<text transform="translate(24.50,539.36) scale(1.15,1.0)" font-size="5.6" text-anchor="end" font-weight="normal" fill="#222" stroke="#222" stroke-width="0.2">60</text>
<line x1="27.30" y1="522.50" x2="30.30" y2="522.50" stroke="#1a1a1a" stroke-width="1.0"/>
<text transform="translate(24.50,524.74) scale(1.15,1.0)" font-size="5.6" text-anchor="end" font-weight="normal" fill="#222" stroke="#222" stroke-width="0.2">80</text>
<line x1="27.30" y1="508.50" x2="30.30" y2="508.50" stroke="#1a1a1a" stroke-width="1.0"/>
<text transform="translate(24.50,510.12) scale(1.15,1.0)" font-size="5.6" text-anchor="end" font-weight="normal" fill="#222" stroke="#222" stroke-width="0.2">100</text>
<text transform="translate(7.40,543.60) rotate(-90)" font-size="7.4" text-anchor="middle" font-weight="normal" fill="#222" stroke="#222" stroke-width="0.22" textLength="48.80" lengthAdjust="spacingAndGlyphs">% PAC1+ platelets</text>
<line x1="30.30" y1="581.50" x2="140.70" y2="581.50" stroke="#1a1a1a" stroke-width="1.2"/>
<line x1="41.50" y1="581.20" x2="41.50" y2="583.80" stroke="#1a1a1a" stroke-width="1.0"/>
<line x1="56.50" y1="581.20" x2="56.50" y2="583.80" stroke="#1a1a1a" stroke-width="1.0"/>
<line x1="70.50" y1="581.20" x2="70.50" y2="583.80" stroke="#1a1a1a" stroke-width="1.0"/>
<line x1="85.50" y1="581.20" x2="85.50" y2="583.80" stroke="#1a1a1a" stroke-width="1.0"/>
<line x1="100.50" y1="581.20" x2="100.50" y2="583.80" stroke="#1a1a1a" stroke-width="1.0"/>
<line x1="114.50" y1="581.20" x2="114.50" y2="583.80" stroke="#1a1a1a" stroke-width="1.0"/>
<line x1="129.50" y1="581.20" x2="129.50" y2="583.80" stroke="#1a1a1a" stroke-width="1.0"/>
<rect x="36.30" y="581.00" width="10.60" height="0.20" fill="#1a4e98"/>
<circle cx="37.00" cy="580.80" r="0.9" fill="#111"/>
<circle cx="40.00" cy="580.80" r="0.9" fill="#111"/>
<circle cx="43.00" cy="580.80" r="0.9" fill="#111"/>
<circle cx="46.00" cy="580.80" r="0.9" fill="#111"/>
<rect x="50.90" y="526.00" width="10.60" height="55.20" fill="#f5950a"/>
<line x1="56.50" y1="516.70" x2="56.50" y2="527.50" stroke="#222" stroke-width="0.9"/>
<line x1="54.70" y1="516.50" x2="57.70" y2="516.50" stroke="#222" stroke-width="0.9"/>
<circle cx="56.20" cy="509.60" r="0.9" fill="#111"/>
<circle cx="56.20" cy="511.60" r="0.9" fill="#111"/>
<circle cx="56.20" cy="538.00" r="0.9" fill="#111"/>
<circle cx="56.20" cy="542.50" r="0.9" fill="#111"/>
<rect x="65.50" y="569.10" width="10.60" height="12.10" fill="#1a4e98"/>
<line x1="70.50" y1="563.10" x2="70.50" y2="570.60" stroke="#222" stroke-width="0.9"/>
<line x1="69.30" y1="563.50" x2="72.30" y2="563.50" stroke="#222" stroke-width="0.9"/>
<circle cx="70.80" cy="553.60" r="0.9" fill="#111"/>
<circle cx="70.80" cy="573.00" r="0.9" fill="#111"/>
<rect x="80.10" y="577.90" width="10.60" height="3.30" fill="#1a4e98"/>
<circle cx="81.50" cy="578.00" r="0.9" fill="#111"/>
<circle cx="84.50" cy="577.60" r="0.9" fill="#111"/>
<circle cx="87.50" cy="577.80" r="0.9" fill="#111"/>
<circle cx="89.50" cy="578.00" r="0.9" fill="#111"/>
<rect x="94.70" y="520.90" width="10.60" height="60.30" fill="#d0062c"/>
<line x1="100.50" y1="515.60" x2="100.50" y2="522.40" stroke="#222" stroke-width="0.9"/>
<line x1="98.50" y1="515.50" x2="101.50" y2="515.50" stroke="#222" stroke-width="0.9"/>
<circle cx="97.50" cy="512.20" r="0.9" fill="#111"/>
<circle cx="102.50" cy="512.20" r="0.9" fill="#111"/>
<circle cx="100.00" cy="526.00" r="0.9" fill="#111"/>
<rect x="109.30" y="577.90" width="10.60" height="3.30" fill="#1a4e98"/>
<line x1="114.50" y1="575.70" x2="114.50" y2="579.40" stroke="#222" stroke-width="0.9"/>
<line x1="113.10" y1="575.50" x2="116.10" y2="575.50" stroke="#222" stroke-width="0.9"/>
<circle cx="114.60" cy="572.80" r="0.9" fill="#111"/>
<rect x="123.90" y="545.90" width="10.60" height="35.30" fill="#f5950a"/>
<line x1="129.50" y1="540.30" x2="129.50" y2="547.40" stroke="#222" stroke-width="0.9"/>
<line x1="127.70" y1="540.50" x2="130.70" y2="540.50" stroke="#222" stroke-width="0.9"/>
<circle cx="129.20" cy="535.90" r="0.9" fill="#111"/>
<circle cx="129.20" cy="546.00" r="0.9" fill="#111"/>
<circle cx="129.20" cy="550.00" r="0.9" fill="#111"/>
<line x1="98.40" y1="500.50" x2="133.40" y2="500.50" stroke="#222" stroke-width="1.0"/>
<circle cx="115.70" cy="496.70" r="1.2" fill="#1a1a1a"/>
<line x1="98.40" y1="506.50" x2="115.70" y2="506.50" stroke="#222" stroke-width="1.0"/>
<circle cx="106.05" cy="502.70" r="1.2" fill="#1a1a1a"/>
<circle cx="108.95" cy="502.70" r="1.2" fill="#1a1a1a"/>
<text transform="translate(42.20,590.40) rotate(-45)" font-size="6.4" text-anchor="end" font-weight="normal" fill="#222" stroke="#222" stroke-width="0.2">veh</text>
<text transform="translate(56.80,590.40) rotate(-45)" font-size="6.4" text-anchor="end" font-weight="normal" fill="#222" stroke="#222" stroke-width="0.2">+Thrombin</text>
<text transform="translate(71.40,590.40) rotate(-45)" font-size="6.4" text-anchor="end" font-weight="normal" fill="#222" stroke="#222" stroke-width="0.2">+GPVI agonist</text>
<text transform="translate(86.00,590.40) rotate(-45)" font-size="6.4" text-anchor="end" font-weight="normal" fill="#222" stroke="#222" stroke-width="0.2">+oxLDL</text>
<text transform="translate(100.60,590.40) rotate(-45)" font-size="6.4" text-anchor="end" font-weight="normal" fill="#222" stroke="#222" stroke-width="0.2">veh</text>
<text transform="translate(115.20,590.40) rotate(-45)" font-size="6.4" text-anchor="end" font-weight="normal" fill="#222" stroke="#222" stroke-width="0.2">+Ibrutinib</text>
<text transform="translate(129.80,590.40) rotate(-45)" font-size="6.4" text-anchor="end" font-weight="normal" fill="#222" stroke="#222" stroke-width="0.2">+R406</text>
<line x1="85.00" y1="617.50" x2="125.50" y2="617.50" stroke="#222" stroke-width="1.1"/>
<text transform="translate(105.25,625.50) scale(1.05,1.0)" font-size="6.0" text-anchor="middle" font-weight="normal" fill="#222" stroke="#222" stroke-width="0.2">+oxLDL</text>
<text transform="translate(105.25,633.00) scale(1.05,1.0)" font-size="6.0" text-anchor="middle" font-weight="normal" fill="#222" stroke="#222" stroke-width="0.2">+GPVI agonist</text>
<text transform="translate(169.80,493.80)" font-size="10.7" text-anchor="start" font-weight="bold" fill="#000" stroke="#000" stroke-width="0.2">G</text>
<text transform="translate(196.50,489.90)" font-size="7.0" text-anchor="start" font-weight="normal" fill="#2a2a2a" stroke="#2a2a2a" stroke-width="0.1" textLength="78.70" lengthAdjust="spacingAndGlyphs">Thromboxane generation</text>
<line x1="196.90" y1="492.50" x2="275.10" y2="492.50" stroke="#222" stroke-width="1.0"/>
<line x1="198.50" y1="505.00" x2="198.50" y2="581.90" stroke="#1a1a1a" stroke-width="1.2"/>
<line x1="195.90" y1="581.50" x2="198.90" y2="581.50" stroke="#1a1a1a" stroke-width="1.0"/>
<text transform="translate(193.10,583.32) scale(1.15,1.0)" font-size="5.6" text-anchor="end" font-weight="normal" fill="#222" stroke="#222" stroke-width="0.2">0</text>
<line x1="195.90" y1="562.50" x2="198.90" y2="562.50" stroke="#1a1a1a" stroke-width="1.0"/>
<text transform="translate(193.10,564.87) scale(1.15,1.0)" font-size="5.6" text-anchor="end" font-weight="normal" fill="#222" stroke="#222" stroke-width="0.2">200</text>
<line x1="195.90" y1="544.50" x2="198.90" y2="544.50" stroke="#1a1a1a" stroke-width="1.0"/>
<text transform="translate(193.10,546.42) scale(1.15,1.0)" font-size="5.6" text-anchor="end" font-weight="normal" fill="#222" stroke="#222" stroke-width="0.2">400</text>
<line x1="195.90" y1="525.50" x2="198.90" y2="525.50" stroke="#1a1a1a" stroke-width="1.0"/>
<text transform="translate(193.10,527.97) scale(1.15,1.0)" font-size="5.6" text-anchor="end" font-weight="normal" fill="#222" stroke="#222" stroke-width="0.2">600</text>
<line x1="195.90" y1="507.50" x2="198.90" y2="507.50" stroke="#1a1a1a" stroke-width="1.0"/>
<text transform="translate(193.10,509.52) scale(1.15,1.0)" font-size="5.6" text-anchor="end" font-weight="normal" fill="#222" stroke="#222" stroke-width="0.2">800</text>
<text transform="translate(176.60,545.80) rotate(-90)" font-size="8.1" text-anchor="middle" font-weight="normal" fill="#222" stroke="#222" stroke-width="0.35" textLength="64.40" lengthAdjust="spacingAndGlyphs">Thromboxane B2 (pg/ml)</text>
<line x1="198.90" y1="581.50" x2="273.00" y2="581.50" stroke="#1a1a1a" stroke-width="1.2"/>
<line x1="207.50" y1="581.30" x2="207.50" y2="583.90" stroke="#1a1a1a" stroke-width="1.0"/>
<line x1="219.50" y1="581.30" x2="219.50" y2="583.90" stroke="#1a1a1a" stroke-width="1.0"/>
<line x1="230.50" y1="581.30" x2="230.50" y2="583.90" stroke="#1a1a1a" stroke-width="1.0"/>
<line x1="241.50" y1="581.30" x2="241.50" y2="583.90" stroke="#1a1a1a" stroke-width="1.0"/>
<line x1="252.50" y1="581.30" x2="252.50" y2="583.90" stroke="#1a1a1a" stroke-width="1.0"/>
<line x1="263.50" y1="581.30" x2="263.50" y2="583.90" stroke="#1a1a1a" stroke-width="1.0"/>
<rect x="203.60" y="577.70" width="8.60" height="3.60" fill="#1a4e98"/>
<circle cx="207.90" cy="576.80" r="0.9" fill="#111"/>
<rect x="214.78" y="577.70" width="8.60" height="3.60" fill="#1a4e98"/>
<circle cx="219.08" cy="576.80" r="0.9" fill="#111"/>
<rect x="225.96" y="569.80" width="8.60" height="11.50" fill="#d0062c"/>
<line x1="230.50" y1="567.30" x2="230.50" y2="571.30" stroke="#222" stroke-width="0.9"/>
<line x1="228.76" y1="567.50" x2="231.76" y2="567.50" stroke="#222" stroke-width="0.9"/>
<circle cx="230.26" cy="566.30" r="0.9" fill="#111"/>
<rect x="237.14" y="522.30" width="8.60" height="59.00" fill="#d0062c"/>
<line x1="241.50" y1="518.90" x2="241.50" y2="523.80" stroke="#222" stroke-width="0.9"/>
<line x1="239.94" y1="518.50" x2="242.94" y2="518.50" stroke="#222" stroke-width="0.9"/>
<circle cx="241.44" cy="515.40" r="0.9" fill="#111"/>
<circle cx="241.44" cy="525.00" r="0.9" fill="#111"/>
<rect x="248.32" y="579.80" width="8.60" height="1.50" fill="#1a4e98"/>
<circle cx="252.62" cy="579.20" r="0.9" fill="#111"/>
<rect x="259.50" y="579.80" width="8.60" height="1.50" fill="#1a4e98"/>
<circle cx="263.80" cy="578.80" r="0.9" fill="#111"/>
<line x1="240.20" y1="506.50" x2="274.80" y2="506.50" stroke="#222" stroke-width="1.0"/>
<circle cx="254.20" cy="502.50" r="1.2" fill="#1a1a1a"/>
<circle cx="257.10" cy="502.50" r="1.2" fill="#1a1a1a"/>
<circle cx="260.00" cy="502.50" r="1.2" fill="#1a1a1a"/>
<line x1="240.20" y1="512.50" x2="257.20" y2="512.50" stroke="#222" stroke-width="1.0"/>
<circle cx="245.50" cy="508.60" r="1.2" fill="#1a1a1a"/>
<circle cx="248.40" cy="508.60" r="1.2" fill="#1a1a1a"/>
<circle cx="251.30" cy="508.60" r="1.2" fill="#1a1a1a"/>
<text transform="translate(208.30,590.30) rotate(-45)" font-size="6.4" text-anchor="end" font-weight="normal" fill="#222" stroke="#222" stroke-width="0.2">veh</text>
<text transform="translate(219.48,590.30) rotate(-45)" font-size="6.4" text-anchor="end" font-weight="normal" fill="#222" stroke="#222" stroke-width="0.2">+oxLDL</text>
<text transform="translate(230.66,590.30) rotate(-45)" font-size="6.4" text-anchor="end" font-weight="normal" fill="#222" stroke="#222" stroke-width="0.2">+GPVI agonist</text>
<text transform="translate(241.84,590.30) rotate(-45)" font-size="6.4" text-anchor="end" font-weight="normal" fill="#222" stroke="#222" stroke-width="0.2">veh</text>
<text transform="translate(253.02,590.30) rotate(-45)" font-size="6.4" text-anchor="end" font-weight="normal" fill="#222" stroke="#222" stroke-width="0.2">+Aspirin</text>
<text transform="translate(264.20,590.30) rotate(-45)" font-size="6.4" text-anchor="end" font-weight="normal" fill="#222" stroke="#222" stroke-width="0.2">+Ibrutinib</text>
<line x1="231.70" y1="617.50" x2="266.90" y2="617.50" stroke="#222" stroke-width="1.1"/>
<text transform="translate(249.30,625.80) scale(1.05,1.0)" font-size="6.2" text-anchor="middle" font-weight="normal" fill="#222" stroke="#222" stroke-width="0.2">+oxLDL</text>
<text transform="translate(249.30,633.30) scale(1.05,1.0)" font-size="6.2" text-anchor="middle" font-weight="normal" fill="#222" stroke="#222" stroke-width="0.2">+GPVI agonist</text>
<text transform="translate(305.60,10.20)" font-size="10.7" text-anchor="start" font-weight="bold" fill="#000" stroke="#000" stroke-width="0.2">H</text>
<text transform="translate(375.90,6.20)" font-size="6.8" text-anchor="start" font-weight="normal" fill="#2a2a2a" stroke="#2a2a2a" stroke-width="0.1" textLength="85.80" lengthAdjust="spacingAndGlyphs">oxylipin metabolites (ng/ml)</text>
<line x1="376.50" y1="9.50" x2="462.00" y2="9.50" stroke="#222" stroke-width="1.0"/>
<line x1="334.50" y1="11.70" x2="334.50" y2="55.80" stroke="#1a1a1a" stroke-width="1.2"/>
<line x1="332.50" y1="55.50" x2="334.70" y2="55.50" stroke="#1a1a1a" stroke-width="1.0"/>
<text transform="translate(329.40,57.00) scale(1.3,1.0)" font-size="5.1" text-anchor="end" font-weight="normal" fill="#222" stroke="#222" stroke-width="0.1">0.0</text>
<line x1="332.50" y1="45.50" x2="334.70" y2="45.50" stroke="#1a1a1a" stroke-width="1.0"/>
<text transform="translate(329.40,47.08) scale(1.3,1.0)" font-size="5.1" text-anchor="end" font-weight="normal" fill="#222" stroke="#222" stroke-width="0.1">0.5</text>
<line x1="332.50" y1="35.50" x2="334.70" y2="35.50" stroke="#1a1a1a" stroke-width="1.0"/>
<text transform="translate(329.40,37.15) scale(1.3,1.0)" font-size="5.1" text-anchor="end" font-weight="normal" fill="#222" stroke="#222" stroke-width="0.1">1.0</text>
<line x1="332.50" y1="25.50" x2="334.70" y2="25.50" stroke="#1a1a1a" stroke-width="1.0"/>
<text transform="translate(329.40,27.23) scale(1.3,1.0)" font-size="5.1" text-anchor="end" font-weight="normal" fill="#222" stroke="#222" stroke-width="0.1">1.5</text>
<line x1="332.50" y1="15.50" x2="334.70" y2="15.50" stroke="#1a1a1a" stroke-width="1.0"/>
<text transform="translate(329.40,17.30) scale(1.3,1.0)" font-size="5.1" text-anchor="end" font-weight="normal" fill="#222" stroke="#222" stroke-width="0.1">2.0</text>
<line x1="334.70" y1="55.50" x2="504.30" y2="55.50" stroke="#1a1a1a" stroke-width="1.2"/>
<line x1="341.50" y1="55.20" x2="341.50" y2="57.80" stroke="#1a1a1a" stroke-width="0.9"/>
<line x1="352.50" y1="55.20" x2="352.50" y2="57.80" stroke="#1a1a1a" stroke-width="0.9"/>
<line x1="362.50" y1="55.20" x2="362.50" y2="57.80" stroke="#1a1a1a" stroke-width="0.9"/>
<line x1="373.50" y1="55.20" x2="373.50" y2="57.80" stroke="#1a1a1a" stroke-width="0.9"/>
<line x1="383.50" y1="55.20" x2="383.50" y2="57.80" stroke="#1a1a1a" stroke-width="0.9"/>
<line x1="394.50" y1="55.20" x2="394.50" y2="57.80" stroke="#1a1a1a" stroke-width="0.9"/>
<line x1="404.50" y1="55.20" x2="404.50" y2="57.80" stroke="#1a1a1a" stroke-width="0.9"/>
<line x1="415.50" y1="55.20" x2="415.50" y2="57.80" stroke="#1a1a1a" stroke-width="0.9"/>
<line x1="426.50" y1="55.20" x2="426.50" y2="57.80" stroke="#1a1a1a" stroke-width="0.9"/>
<line x1="436.50" y1="55.20" x2="436.50" y2="57.80" stroke="#1a1a1a" stroke-width="0.9"/>
<line x1="447.50" y1="55.20" x2="447.50" y2="57.80" stroke="#1a1a1a" stroke-width="0.9"/>
<line x1="457.50" y1="55.20" x2="457.50" y2="57.80" stroke="#1a1a1a" stroke-width="0.9"/>
<line x1="468.50" y1="55.20" x2="468.50" y2="57.80" stroke="#1a1a1a" stroke-width="0.9"/>
<line x1="479.50" y1="55.20" x2="479.50" y2="57.80" stroke="#1a1a1a" stroke-width="0.9"/>
<line x1="489.50" y1="55.20" x2="489.50" y2="57.80" stroke="#1a1a1a" stroke-width="0.9"/>
<line x1="500.50" y1="55.20" x2="500.50" y2="57.80" stroke="#1a1a1a" stroke-width="0.9"/>
<text transform="translate(312.90,33.60) rotate(-90)" font-size="6.9" text-anchor="middle" font-weight="normal" fill="#222" stroke="#222" stroke-width="0.32" textLength="17.60" lengthAdjust="spacingAndGlyphs">8-HETE</text>
<rect x="338.40" y="54.50" width="6.20" height="0.70" fill="#2a1f2a"/>
<line x1="362.66" y1="52.00" x2="362.66" y2="52.90" stroke="#222" stroke-width="0.7"/>
<line x1="361.06" y1="52.00" x2="364.26" y2="52.00" stroke="#222" stroke-width="0.8"/>
<rect x="359.56" y="52.90" width="6.20" height="2.30" fill="#30ab3a"/>
<rect x="370.14" y="54.60" width="6.20" height="0.60" fill="#2a1f2a"/>
<line x1="426.14" y1="43.90" x2="426.14" y2="47.40" stroke="#222" stroke-width="0.7"/>
<line x1="424.54" y1="43.90" x2="427.74" y2="43.90" stroke="#222" stroke-width="0.8"/>
<rect x="423.04" y="47.40" width="6.20" height="7.80" fill="#d0062c"/>
<circle cx="426.14" cy="50.13" r="0.7" fill="#3a0a18"/>
<circle cx="426.14" cy="52.86" r="0.7" fill="#3a0a18"/>
<line x1="436.72" y1="51.30" x2="436.72" y2="52.10" stroke="#222" stroke-width="0.7"/>
<line x1="435.12" y1="51.30" x2="438.32" y2="51.30" stroke="#222" stroke-width="0.8"/>
<rect x="433.62" y="52.10" width="6.20" height="3.10" fill="#2762a8"/>
<line x1="447.30" y1="52.20" x2="447.30" y2="52.90" stroke="#222" stroke-width="0.7"/>
<line x1="445.70" y1="52.20" x2="448.90" y2="52.20" stroke="#222" stroke-width="0.8"/>
<rect x="444.20" y="52.90" width="6.20" height="2.30" fill="#30ab3a"/>
<line x1="468.46" y1="35.70" x2="468.46" y2="38.80" stroke="#222" stroke-width="0.7"/>
<line x1="466.86" y1="35.70" x2="470.06" y2="35.70" stroke="#222" stroke-width="0.8"/>
<rect x="465.36" y="38.80" width="6.20" height="13.30" fill="#d0062c"/>
<circle cx="468.46" cy="43.45" r="0.7" fill="#3a0a18"/>
<circle cx="468.46" cy="48.11" r="0.7" fill="#3a0a18"/>
<line x1="489.62" y1="48.80" x2="489.62" y2="49.40" stroke="#222" stroke-width="0.7"/>
<line x1="488.02" y1="48.80" x2="491.22" y2="48.80" stroke="#222" stroke-width="0.8"/>
<rect x="486.52" y="49.40" width="6.20" height="5.30" fill="#30ab3a"/>
<circle cx="489.62" cy="51.26" r="0.7" fill="#3a0a18"/>
<circle cx="489.62" cy="53.11" r="0.7" fill="#3a0a18"/>
<line x1="500.20" y1="18.20" x2="500.20" y2="24.50" stroke="#222" stroke-width="0.7"/>
<line x1="498.60" y1="18.20" x2="501.80" y2="18.20" stroke="#222" stroke-width="0.8"/>
<rect x="497.10" y="24.50" width="6.20" height="28.40" fill="#5a2a6c"/>
<circle cx="500.20" cy="34.44" r="0.7" fill="#3a0a18"/>
<circle cx="500.20" cy="44.38" r="0.7" fill="#3a0a18"/>
<line x1="334.50" y1="71.70" x2="334.50" y2="115.80" stroke="#1a1a1a" stroke-width="1.2"/>
<line x1="332.70" y1="115.50" x2="334.90" y2="115.50" stroke="#1a1a1a" stroke-width="1.0"/>
<text transform="translate(329.60,117.00) scale(1.3,1.0)" font-size="5.1" text-anchor="end" font-weight="normal" fill="#222" stroke="#222" stroke-width="0.1">0</text>
<line x1="332.70" y1="107.50" x2="334.90" y2="107.50" stroke="#1a1a1a" stroke-width="1.0"/>
<text transform="translate(329.60,109.04) scale(1.3,1.0)" font-size="5.1" text-anchor="end" font-weight="normal" fill="#222" stroke="#222" stroke-width="0.1">2</text>
<line x1="332.70" y1="99.50" x2="334.90" y2="99.50" stroke="#1a1a1a" stroke-width="1.0"/>
<text transform="translate(329.60,101.08) scale(1.3,1.0)" font-size="5.1" text-anchor="end" font-weight="normal" fill="#222" stroke="#222" stroke-width="0.1">4</text>
<line x1="332.70" y1="91.50" x2="334.90" y2="91.50" stroke="#1a1a1a" stroke-width="1.0"/>
<text transform="translate(329.60,93.12) scale(1.3,1.0)" font-size="5.1" text-anchor="end" font-weight="normal" fill="#222" stroke="#222" stroke-width="0.1">6</text>
<line x1="332.70" y1="83.50" x2="334.90" y2="83.50" stroke="#1a1a1a" stroke-width="1.0"/>
<text transform="translate(329.60,85.16) scale(1.3,1.0)" font-size="5.1" text-anchor="end" font-weight="normal" fill="#222" stroke="#222" stroke-width="0.1">8</text>
<line x1="332.70" y1="75.50" x2="334.90" y2="75.50" stroke="#1a1a1a" stroke-width="1.0"/>
<text transform="translate(329.60,77.20) scale(1.3,1.0)" font-size="5.1" text-anchor="end" font-weight="normal" fill="#222" stroke="#222" stroke-width="0.1">10</text>
<line x1="334.90" y1="115.50" x2="504.50" y2="115.50" stroke="#1a1a1a" stroke-width="1.2"/>
<line x1="341.50" y1="115.20" x2="341.50" y2="117.80" stroke="#1a1a1a" stroke-width="0.9"/>
<line x1="352.50" y1="115.20" x2="352.50" y2="117.80" stroke="#1a1a1a" stroke-width="0.9"/>
<line x1="362.50" y1="115.20" x2="362.50" y2="117.80" stroke="#1a1a1a" stroke-width="0.9"/>
<line x1="373.50" y1="115.20" x2="373.50" y2="117.80" stroke="#1a1a1a" stroke-width="0.9"/>
<line x1="384.50" y1="115.20" x2="384.50" y2="117.80" stroke="#1a1a1a" stroke-width="0.9"/>
<line x1="394.50" y1="115.20" x2="394.50" y2="117.80" stroke="#1a1a1a" stroke-width="0.9"/>
<line x1="405.50" y1="115.20" x2="405.50" y2="117.80" stroke="#1a1a1a" stroke-width="0.9"/>
<line x1="415.50" y1="115.20" x2="415.50" y2="117.80" stroke="#1a1a1a" stroke-width="0.9"/>
<line x1="426.50" y1="115.20" x2="426.50" y2="117.80" stroke="#1a1a1a" stroke-width="0.9"/>
<line x1="436.50" y1="115.20" x2="436.50" y2="117.80" stroke="#1a1a1a" stroke-width="0.9"/>
<line x1="447.50" y1="115.20" x2="447.50" y2="117.80" stroke="#1a1a1a" stroke-width="0.9"/>
<line x1="458.50" y1="115.20" x2="458.50" y2="117.80" stroke="#1a1a1a" stroke-width="0.9"/>
<line x1="468.50" y1="115.20" x2="468.50" y2="117.80" stroke="#1a1a1a" stroke-width="0.9"/>
<line x1="479.50" y1="115.20" x2="479.50" y2="117.80" stroke="#1a1a1a" stroke-width="0.9"/>
<line x1="489.50" y1="115.20" x2="489.50" y2="117.80" stroke="#1a1a1a" stroke-width="0.9"/>
<line x1="500.50" y1="115.20" x2="500.50" y2="117.80" stroke="#1a1a1a" stroke-width="0.9"/>
<text transform="translate(312.90,93.50) rotate(-90)" font-size="6.9" text-anchor="middle" font-weight="normal" fill="#222" stroke="#222" stroke-width="0.32" textLength="26.50" lengthAdjust="spacingAndGlyphs">13S-HODE</text>
<line x1="341.70" y1="110.00" x2="341.70" y2="111.40" stroke="#222" stroke-width="0.7"/>
<line x1="340.10" y1="110.00" x2="343.30" y2="110.00" stroke="#222" stroke-width="0.8"/>
<rect x="338.60" y="111.40" width="6.20" height="3.80" fill="#2762a8"/>
<line x1="352.28" y1="111.30" x2="352.28" y2="112.10" stroke="#222" stroke-width="0.7"/>
<line x1="350.68" y1="111.30" x2="353.88" y2="111.30" stroke="#222" stroke-width="0.8"/>
<rect x="349.18" y="112.10" width="6.20" height="3.10" fill="#3a6fb0"/>
<rect x="359.76" y="113.50" width="6.20" height="1.70" fill="#2e6a34"/>
<rect x="370.34" y="112.60" width="6.20" height="2.60" fill="#7a4a80"/>
<line x1="384.02" y1="107.30" x2="384.02" y2="107.90" stroke="#222" stroke-width="0.7"/>
<line x1="382.42" y1="107.30" x2="385.62" y2="107.30" stroke="#222" stroke-width="0.8"/>
<rect x="380.92" y="107.90" width="6.20" height="5.90" fill="#d0062c"/>
<circle cx="384.02" cy="109.97" r="0.7" fill="#3a0a18"/>
<circle cx="384.02" cy="112.03" r="0.7" fill="#3a0a18"/>
<rect x="391.50" y="110.90" width="6.20" height="1.20" fill="#222"/>
<line x1="405.18" y1="108.60" x2="405.18" y2="109.10" stroke="#222" stroke-width="0.7"/>
<line x1="403.58" y1="108.60" x2="406.78" y2="108.60" stroke="#222" stroke-width="0.8"/>
<rect x="402.08" y="109.10" width="6.20" height="3.50" fill="#30ab3a"/>
<line x1="415.76" y1="105.20" x2="415.76" y2="105.70" stroke="#222" stroke-width="0.7"/>
<line x1="414.16" y1="105.20" x2="417.36" y2="105.20" stroke="#222" stroke-width="0.8"/>
<rect x="412.66" y="105.70" width="6.20" height="7.80" fill="#5a2a6c"/>
<circle cx="415.76" cy="108.43" r="0.7" fill="#3a0a18"/>
<circle cx="415.76" cy="111.16" r="0.7" fill="#3a0a18"/>
<line x1="426.34" y1="101.50" x2="426.34" y2="104.60" stroke="#222" stroke-width="0.7"/>
<line x1="424.74" y1="101.50" x2="427.94" y2="101.50" stroke="#222" stroke-width="0.8"/>
<rect x="423.24" y="104.60" width="6.20" height="10.60" fill="#d0062c"/>
<circle cx="426.34" cy="108.31" r="0.7" fill="#3a0a18"/>
<circle cx="426.34" cy="112.02" r="0.7" fill="#3a0a18"/>
<line x1="436.92" y1="108.30" x2="436.92" y2="108.80" stroke="#222" stroke-width="0.7"/>
<line x1="435.32" y1="108.30" x2="438.52" y2="108.30" stroke="#222" stroke-width="0.8"/>
<rect x="433.82" y="108.80" width="6.20" height="5.50" fill="#2762a8"/>
<circle cx="436.92" cy="110.72" r="0.7" fill="#3a0a18"/>
<circle cx="436.92" cy="112.65" r="0.7" fill="#3a0a18"/>
<line x1="447.50" y1="108.30" x2="447.50" y2="108.80" stroke="#222" stroke-width="0.7"/>
<line x1="445.90" y1="108.30" x2="449.10" y2="108.30" stroke="#222" stroke-width="0.8"/>
<rect x="444.40" y="108.80" width="6.20" height="5.50" fill="#30ab3a"/>
<circle cx="447.50" cy="110.72" r="0.7" fill="#3a0a18"/>
<circle cx="447.50" cy="112.65" r="0.7" fill="#3a0a18"/>
<line x1="458.08" y1="111.20" x2="458.08" y2="111.60" stroke="#222" stroke-width="0.7"/>
<line x1="456.48" y1="111.20" x2="459.68" y2="111.20" stroke="#222" stroke-width="0.8"/>
<rect x="454.98" y="111.60" width="6.20" height="3.10" fill="#5a2a6c"/>
<line x1="468.66" y1="82.70" x2="468.66" y2="88.70" stroke="#222" stroke-width="0.7"/>
<line x1="467.06" y1="82.70" x2="470.26" y2="82.70" stroke="#222" stroke-width="0.8"/>
<rect x="465.56" y="88.70" width="6.20" height="21.60" fill="#d0062c"/>
<circle cx="468.66" cy="96.26" r="0.7" fill="#3a0a18"/>
<circle cx="468.66" cy="103.82" r="0.7" fill="#3a0a18"/>
<rect x="476.14" y="108.50" width="6.20" height="2.50" fill="#1d3c6e"/>
<line x1="489.82" y1="106.00" x2="489.82" y2="106.70" stroke="#222" stroke-width="0.7"/>
<line x1="488.22" y1="106.00" x2="491.42" y2="106.00" stroke="#222" stroke-width="0.8"/>
<rect x="486.72" y="106.70" width="6.20" height="6.20" fill="#30ab3a"/>
<circle cx="489.82" cy="108.87" r="0.7" fill="#3a0a18"/>
<circle cx="489.82" cy="111.04" r="0.7" fill="#3a0a18"/>
<line x1="500.40" y1="103.30" x2="500.40" y2="103.70" stroke="#222" stroke-width="0.7"/>
<line x1="498.80" y1="103.30" x2="502.00" y2="103.30" stroke="#222" stroke-width="0.8"/>
<rect x="497.30" y="103.70" width="6.20" height="7.90" fill="#5a2a6c"/>
<circle cx="500.40" cy="106.47" r="0.7" fill="#3a0a18"/>
<circle cx="500.40" cy="109.23" r="0.7" fill="#3a0a18"/>
<line x1="335.50" y1="131.40" x2="335.50" y2="175.50" stroke="#1a1a1a" stroke-width="1.2"/>
<line x1="333.00" y1="174.50" x2="335.20" y2="174.50" stroke="#1a1a1a" stroke-width="1.0"/>
<text transform="translate(329.90,176.70) scale(1.3,1.0)" font-size="5.1" text-anchor="end" font-weight="normal" fill="#222" stroke="#222" stroke-width="0.1">0</text>
<line x1="333.00" y1="164.50" x2="335.20" y2="164.50" stroke="#1a1a1a" stroke-width="1.0"/>
<text transform="translate(329.90,166.78) scale(1.3,1.0)" font-size="5.1" text-anchor="end" font-weight="normal" fill="#222" stroke="#222" stroke-width="0.1">5</text>
<line x1="333.00" y1="155.50" x2="335.20" y2="155.50" stroke="#1a1a1a" stroke-width="1.0"/>
<text transform="translate(329.90,156.85) scale(1.3,1.0)" font-size="5.1" text-anchor="end" font-weight="normal" fill="#222" stroke="#222" stroke-width="0.1">10</text>
<line x1="333.00" y1="145.50" x2="335.20" y2="145.50" stroke="#1a1a1a" stroke-width="1.0"/>
<text transform="translate(329.90,146.93) scale(1.3,1.0)" font-size="5.1" text-anchor="end" font-weight="normal" fill="#222" stroke="#222" stroke-width="0.1">15</text>
<line x1="333.00" y1="135.50" x2="335.20" y2="135.50" stroke="#1a1a1a" stroke-width="1.0"/>
<text transform="translate(329.90,137.00) scale(1.3,1.0)" font-size="5.1" text-anchor="end" font-weight="normal" fill="#222" stroke="#222" stroke-width="0.1">20</text>
<line x1="335.20" y1="174.50" x2="504.80" y2="174.50" stroke="#1a1a1a" stroke-width="1.2"/>
<line x1="342.50" y1="174.90" x2="342.50" y2="177.50" stroke="#1a1a1a" stroke-width="0.9"/>
<line x1="352.50" y1="174.90" x2="352.50" y2="177.50" stroke="#1a1a1a" stroke-width="0.9"/>
<line x1="363.50" y1="174.90" x2="363.50" y2="177.50" stroke="#1a1a1a" stroke-width="0.9"/>
<line x1="373.50" y1="174.90" x2="373.50" y2="177.50" stroke="#1a1a1a" stroke-width="0.9"/>
<line x1="384.50" y1="174.90" x2="384.50" y2="177.50" stroke="#1a1a1a" stroke-width="0.9"/>
<line x1="394.50" y1="174.90" x2="394.50" y2="177.50" stroke="#1a1a1a" stroke-width="0.9"/>
<line x1="405.50" y1="174.90" x2="405.50" y2="177.50" stroke="#1a1a1a" stroke-width="0.9"/>
<line x1="416.50" y1="174.90" x2="416.50" y2="177.50" stroke="#1a1a1a" stroke-width="0.9"/>
<line x1="426.50" y1="174.90" x2="426.50" y2="177.50" stroke="#1a1a1a" stroke-width="0.9"/>
<line x1="437.50" y1="174.90" x2="437.50" y2="177.50" stroke="#1a1a1a" stroke-width="0.9"/>
<line x1="447.50" y1="174.90" x2="447.50" y2="177.50" stroke="#1a1a1a" stroke-width="0.9"/>
<line x1="458.50" y1="174.90" x2="458.50" y2="177.50" stroke="#1a1a1a" stroke-width="0.9"/>
<line x1="468.50" y1="174.90" x2="468.50" y2="177.50" stroke="#1a1a1a" stroke-width="0.9"/>
<line x1="479.50" y1="174.90" x2="479.50" y2="177.50" stroke="#1a1a1a" stroke-width="0.9"/>
<line x1="490.50" y1="174.90" x2="490.50" y2="177.50" stroke="#1a1a1a" stroke-width="0.9"/>
<line x1="500.50" y1="174.90" x2="500.50" y2="177.50" stroke="#1a1a1a" stroke-width="0.9"/>
<text transform="translate(312.90,153.50) rotate(-90)" font-size="6.9" text-anchor="middle" font-weight="normal" fill="#222" stroke="#222" stroke-width="0.32" textLength="23.60" lengthAdjust="spacingAndGlyphs">9S-HODE</text>
<rect x="338.90" y="173.00" width="6.20" height="1.90" fill="#2a1f2a"/>
<rect x="349.48" y="174.00" width="6.20" height="0.90" fill="#2a1f2a"/>
<rect x="360.06" y="173.60" width="6.20" height="1.30" fill="#2a1f2a"/>
<rect x="370.64" y="172.60" width="6.20" height="2.30" fill="#2a1f2a"/>
<rect x="381.22" y="172.80" width="6.20" height="2.10" fill="#5a1020"/>
<rect x="391.80" y="173.40" width="6.20" height="1.50" fill="#2a1f2a"/>
<rect x="402.38" y="173.60" width="6.20" height="1.30" fill="#2a1f2a"/>
<rect x="412.96" y="173.40" width="6.20" height="1.50" fill="#2a1f2a"/>
<line x1="426.64" y1="160.10" x2="426.64" y2="163.90" stroke="#222" stroke-width="0.7"/>
<line x1="425.04" y1="160.10" x2="428.24" y2="160.10" stroke="#222" stroke-width="0.8"/>
<rect x="423.54" y="163.90" width="6.20" height="11.00" fill="#d0062c"/>
<circle cx="426.64" cy="167.75" r="0.7" fill="#3a0a18"/>
<circle cx="426.64" cy="171.60" r="0.7" fill="#3a0a18"/>
<line x1="437.22" y1="171.00" x2="437.22" y2="172.10" stroke="#222" stroke-width="0.7"/>
<line x1="435.62" y1="171.00" x2="438.82" y2="171.00" stroke="#222" stroke-width="0.8"/>
<rect x="434.12" y="172.10" width="6.20" height="2.80" fill="#2762a8"/>
<line x1="447.80" y1="169.20" x2="447.80" y2="170.30" stroke="#222" stroke-width="0.7"/>
<line x1="446.20" y1="169.20" x2="449.40" y2="169.20" stroke="#222" stroke-width="0.8"/>
<rect x="444.70" y="170.30" width="6.20" height="4.60" fill="#30ab3a"/>
<circle cx="447.80" cy="171.91" r="0.7" fill="#3a0a18"/>
<circle cx="447.80" cy="173.52" r="0.7" fill="#3a0a18"/>
<rect x="455.28" y="173.40" width="6.20" height="1.50" fill="#2a1f2a"/>
<line x1="468.96" y1="146.00" x2="468.96" y2="152.00" stroke="#222" stroke-width="0.7"/>
<line x1="467.36" y1="146.00" x2="470.56" y2="146.00" stroke="#222" stroke-width="0.8"/>
<rect x="465.86" y="152.00" width="6.20" height="20.10" fill="#d0062c"/>
<circle cx="468.96" cy="159.03" r="0.7" fill="#3a0a18"/>
<circle cx="468.96" cy="166.07" r="0.7" fill="#3a0a18"/>
<rect x="476.44" y="172.90" width="6.20" height="1.80" fill="#2a1f2a"/>
<line x1="490.12" y1="167.40" x2="490.12" y2="168.80" stroke="#222" stroke-width="0.7"/>
<line x1="488.52" y1="167.40" x2="491.72" y2="167.40" stroke="#222" stroke-width="0.8"/>
<rect x="487.02" y="168.80" width="6.20" height="5.20" fill="#30ab3a"/>
<circle cx="490.12" cy="170.62" r="0.7" fill="#3a0a18"/>
<circle cx="490.12" cy="172.44" r="0.7" fill="#3a0a18"/>
<rect x="497.60" y="172.10" width="6.20" height="2.10" fill="#2a1f2a"/>
<line x1="335.50" y1="191.50" x2="335.50" y2="235.60" stroke="#1a1a1a" stroke-width="1.2"/>
<line x1="333.00" y1="235.50" x2="335.20" y2="235.50" stroke="#1a1a1a" stroke-width="1.0"/>
<text transform="translate(329.90,236.80) scale(1.3,1.0)" font-size="5.1" text-anchor="end" font-weight="normal" fill="#222" stroke="#222" stroke-width="0.1">0</text>
<line x1="333.00" y1="221.50" x2="335.20" y2="221.50" stroke="#1a1a1a" stroke-width="1.0"/>
<text transform="translate(329.90,223.60) scale(1.3,1.0)" font-size="5.1" text-anchor="end" font-weight="normal" fill="#222" stroke="#222" stroke-width="0.1">5</text>
<line x1="333.00" y1="208.50" x2="335.20" y2="208.50" stroke="#1a1a1a" stroke-width="1.0"/>
<text transform="translate(329.90,210.40) scale(1.3,1.0)" font-size="5.1" text-anchor="end" font-weight="normal" fill="#222" stroke="#222" stroke-width="0.1">10</text>
<line x1="333.00" y1="195.50" x2="335.20" y2="195.50" stroke="#1a1a1a" stroke-width="1.0"/>
<text transform="translate(329.90,197.20) scale(1.3,1.0)" font-size="5.1" text-anchor="end" font-weight="normal" fill="#222" stroke="#222" stroke-width="0.1">15</text>
<line x1="335.20" y1="235.50" x2="504.80" y2="235.50" stroke="#1a1a1a" stroke-width="1.2"/>
<line x1="342.50" y1="235.00" x2="342.50" y2="237.60" stroke="#1a1a1a" stroke-width="0.9"/>
<line x1="352.50" y1="235.00" x2="352.50" y2="237.60" stroke="#1a1a1a" stroke-width="0.9"/>
<line x1="363.50" y1="235.00" x2="363.50" y2="237.60" stroke="#1a1a1a" stroke-width="0.9"/>
<line x1="373.50" y1="235.00" x2="373.50" y2="237.60" stroke="#1a1a1a" stroke-width="0.9"/>
<line x1="384.50" y1="235.00" x2="384.50" y2="237.60" stroke="#1a1a1a" stroke-width="0.9"/>
<line x1="394.50" y1="235.00" x2="394.50" y2="237.60" stroke="#1a1a1a" stroke-width="0.9"/>
<line x1="405.50" y1="235.00" x2="405.50" y2="237.60" stroke="#1a1a1a" stroke-width="0.9"/>
<line x1="416.50" y1="235.00" x2="416.50" y2="237.60" stroke="#1a1a1a" stroke-width="0.9"/>
<line x1="426.50" y1="235.00" x2="426.50" y2="237.60" stroke="#1a1a1a" stroke-width="0.9"/>
<line x1="437.50" y1="235.00" x2="437.50" y2="237.60" stroke="#1a1a1a" stroke-width="0.9"/>
<line x1="447.50" y1="235.00" x2="447.50" y2="237.60" stroke="#1a1a1a" stroke-width="0.9"/>
<line x1="458.50" y1="235.00" x2="458.50" y2="237.60" stroke="#1a1a1a" stroke-width="0.9"/>
<line x1="468.50" y1="235.00" x2="468.50" y2="237.60" stroke="#1a1a1a" stroke-width="0.9"/>
<line x1="479.50" y1="235.00" x2="479.50" y2="237.60" stroke="#1a1a1a" stroke-width="0.9"/>
<line x1="490.50" y1="235.00" x2="490.50" y2="237.60" stroke="#1a1a1a" stroke-width="0.9"/>
<line x1="500.50" y1="235.00" x2="500.50" y2="237.60" stroke="#1a1a1a" stroke-width="0.9"/>
<text transform="translate(312.90,213.00) rotate(-90)" font-size="6.9" text-anchor="middle" font-weight="normal" fill="#222" stroke="#222" stroke-width="0.32" textLength="21.10" lengthAdjust="spacingAndGlyphs">11-HETE</text>
<rect x="338.90" y="234.20" width="6.20" height="0.80" fill="#2a1f2a"/>
<rect x="360.06" y="234.20" width="6.20" height="0.80" fill="#2a1f2a"/>
<rect x="381.22" y="234.30" width="6.20" height="0.70" fill="#2a1f2a"/>
<rect x="402.38" y="234.00" width="6.20" height="1.00" fill="#2a1f2a"/>
<line x1="426.64" y1="223.70" x2="426.64" y2="226.80" stroke="#222" stroke-width="0.7"/>
<line x1="425.04" y1="223.70" x2="428.24" y2="223.70" stroke="#222" stroke-width="0.8"/>
<rect x="423.54" y="226.80" width="6.20" height="8.20" fill="#d0062c"/>
<circle cx="426.64" cy="229.67" r="0.7" fill="#3a0a18"/>
<circle cx="426.64" cy="232.54" r="0.7" fill="#3a0a18"/>
<line x1="437.22" y1="230.40" x2="437.22" y2="231.70" stroke="#222" stroke-width="0.7"/>
<line x1="435.62" y1="230.40" x2="438.82" y2="230.40" stroke="#222" stroke-width="0.8"/>
<rect x="434.12" y="231.70" width="6.20" height="3.30" fill="#2762a8"/>
<line x1="447.80" y1="230.40" x2="447.80" y2="231.70" stroke="#222" stroke-width="0.7"/>
<line x1="446.20" y1="230.40" x2="449.40" y2="230.40" stroke="#222" stroke-width="0.8"/>
<rect x="444.70" y="231.70" width="6.20" height="3.30" fill="#30ab3a"/>
<line x1="468.96" y1="206.70" x2="468.96" y2="212.70" stroke="#222" stroke-width="0.7"/>
<line x1="467.36" y1="206.70" x2="470.56" y2="206.70" stroke="#222" stroke-width="0.8"/>
<rect x="465.86" y="212.70" width="6.20" height="21.30" fill="#d0062c"/>
<circle cx="468.96" cy="220.16" r="0.7" fill="#3a0a18"/>
<circle cx="468.96" cy="227.61" r="0.7" fill="#3a0a18"/>
<line x1="490.12" y1="232.30" x2="490.12" y2="232.80" stroke="#222" stroke-width="0.7"/>
<line x1="488.52" y1="232.30" x2="491.72" y2="232.30" stroke="#222" stroke-width="0.8"/>
<rect x="487.02" y="232.80" width="6.20" height="2.20" fill="#2f5a2a"/>
<rect x="497.60" y="233.70" width="6.20" height="1.30" fill="#2a1f2a"/>
<line x1="335.50" y1="251.70" x2="335.50" y2="295.80" stroke="#1a1a1a" stroke-width="1.2"/>
<line x1="333.30" y1="295.50" x2="335.50" y2="295.50" stroke="#1a1a1a" stroke-width="1.0"/>
<text transform="translate(330.20,297.00) scale(1.3,1.0)" font-size="5.1" text-anchor="end" font-weight="normal" fill="#222" stroke="#222" stroke-width="0.1">0</text>
<line x1="333.30" y1="285.50" x2="335.50" y2="285.50" stroke="#1a1a1a" stroke-width="1.0"/>
<text transform="translate(330.20,287.00) scale(1.3,1.0)" font-size="5.1" text-anchor="end" font-weight="normal" fill="#222" stroke="#222" stroke-width="0.1">1</text>
<line x1="333.30" y1="275.50" x2="335.50" y2="275.50" stroke="#1a1a1a" stroke-width="1.0"/>
<text transform="translate(330.20,277.00) scale(1.3,1.0)" font-size="5.1" text-anchor="end" font-weight="normal" fill="#222" stroke="#222" stroke-width="0.1">2</text>
<line x1="333.30" y1="265.50" x2="335.50" y2="265.50" stroke="#1a1a1a" stroke-width="1.0"/>
<text transform="translate(330.20,267.00) scale(1.3,1.0)" font-size="5.1" text-anchor="end" font-weight="normal" fill="#222" stroke="#222" stroke-width="0.1">3</text>
<line x1="333.30" y1="255.50" x2="335.50" y2="255.50" stroke="#1a1a1a" stroke-width="1.0"/>
<text transform="translate(330.20,257.00) scale(1.3,1.0)" font-size="5.1" text-anchor="end" font-weight="normal" fill="#222" stroke="#222" stroke-width="0.1">4</text>
<line x1="335.50" y1="295.50" x2="505.10" y2="295.50" stroke="#1a1a1a" stroke-width="1.2"/>
<line x1="342.50" y1="295.20" x2="342.50" y2="297.80" stroke="#1a1a1a" stroke-width="0.9"/>
<line x1="352.50" y1="295.20" x2="352.50" y2="297.80" stroke="#1a1a1a" stroke-width="0.9"/>
<line x1="363.50" y1="295.20" x2="363.50" y2="297.80" stroke="#1a1a1a" stroke-width="0.9"/>
<line x1="374.50" y1="295.20" x2="374.50" y2="297.80" stroke="#1a1a1a" stroke-width="0.9"/>
<line x1="384.50" y1="295.20" x2="384.50" y2="297.80" stroke="#1a1a1a" stroke-width="0.9"/>
<line x1="395.50" y1="295.20" x2="395.50" y2="297.80" stroke="#1a1a1a" stroke-width="0.9"/>
<line x1="405.50" y1="295.20" x2="405.50" y2="297.80" stroke="#1a1a1a" stroke-width="0.9"/>
<line x1="416.50" y1="295.20" x2="416.50" y2="297.80" stroke="#1a1a1a" stroke-width="0.9"/>
<line x1="426.50" y1="295.20" x2="426.50" y2="297.80" stroke="#1a1a1a" stroke-width="0.9"/>
<line x1="437.50" y1="295.20" x2="437.50" y2="297.80" stroke="#1a1a1a" stroke-width="0.9"/>
<line x1="448.50" y1="295.20" x2="448.50" y2="297.80" stroke="#1a1a1a" stroke-width="0.9"/>
<line x1="458.50" y1="295.20" x2="458.50" y2="297.80" stroke="#1a1a1a" stroke-width="0.9"/>
<line x1="469.50" y1="295.20" x2="469.50" y2="297.80" stroke="#1a1a1a" stroke-width="0.9"/>
<line x1="479.50" y1="295.20" x2="479.50" y2="297.80" stroke="#1a1a1a" stroke-width="0.9"/>
<line x1="490.50" y1="295.20" x2="490.50" y2="297.80" stroke="#1a1a1a" stroke-width="0.9"/>
<line x1="501.50" y1="295.20" x2="501.50" y2="297.80" stroke="#1a1a1a" stroke-width="0.9"/>
<text transform="translate(312.90,273.00) rotate(-90)" font-size="6.9" text-anchor="middle" font-weight="normal" fill="#222" stroke="#222" stroke-width="0.32" textLength="21.60" lengthAdjust="spacingAndGlyphs">15-HETE</text>
<rect x="339.20" y="292.30" width="6.20" height="2.90" fill="#a02040"/>
<rect x="360.36" y="292.80" width="6.20" height="2.40" fill="#2e7a34"/>
<rect x="392.10" y="294.00" width="6.20" height="1.20" fill="#2a1f2a"/>
<rect x="402.68" y="290.90" width="6.20" height="4.30" fill="#30ab3a"/>
<circle cx="405.78" cy="292.40" r="0.7" fill="#3a0a18"/>
<circle cx="405.78" cy="293.91" r="0.7" fill="#3a0a18"/>
<line x1="426.94" y1="271.80" x2="426.94" y2="278.20" stroke="#222" stroke-width="0.7"/>
<line x1="425.34" y1="271.80" x2="428.54" y2="271.80" stroke="#222" stroke-width="0.8"/>
<rect x="423.84" y="278.20" width="6.20" height="17.00" fill="#d0062c"/>
<circle cx="426.94" cy="284.15" r="0.7" fill="#3a0a18"/>
<circle cx="426.94" cy="290.10" r="0.7" fill="#3a0a18"/>
<line x1="437.52" y1="287.70" x2="437.52" y2="289.90" stroke="#222" stroke-width="0.7"/>
<line x1="435.92" y1="287.70" x2="439.12" y2="287.70" stroke="#222" stroke-width="0.8"/>
<rect x="434.42" y="289.90" width="6.20" height="5.30" fill="#2762a8"/>
<circle cx="437.52" cy="291.75" r="0.7" fill="#3a0a18"/>
<circle cx="437.52" cy="293.61" r="0.7" fill="#3a0a18"/>
<line x1="448.10" y1="282.20" x2="448.10" y2="284.90" stroke="#222" stroke-width="0.7"/>
<line x1="446.50" y1="282.20" x2="449.70" y2="282.20" stroke="#222" stroke-width="0.8"/>
<rect x="445.00" y="284.90" width="6.20" height="10.30" fill="#30ab3a"/>
<circle cx="448.10" cy="288.50" r="0.7" fill="#3a0a18"/>
<circle cx="448.10" cy="292.11" r="0.7" fill="#3a0a18"/>
<line x1="458.68" y1="292.20" x2="458.68" y2="293.20" stroke="#222" stroke-width="0.7"/>
<line x1="457.08" y1="292.20" x2="460.28" y2="292.20" stroke="#222" stroke-width="0.8"/>
<rect x="455.58" y="293.20" width="6.20" height="2.00" fill="#2a1f2a"/>
<line x1="469.26" y1="268.50" x2="469.26" y2="271.60" stroke="#222" stroke-width="0.7"/>
<line x1="467.66" y1="268.50" x2="470.86" y2="268.50" stroke="#222" stroke-width="0.8"/>
<rect x="466.16" y="271.60" width="6.20" height="20.10" fill="#d0062c"/>
<circle cx="469.26" cy="278.63" r="0.7" fill="#3a0a18"/>
<circle cx="469.26" cy="285.67" r="0.7" fill="#3a0a18"/>
<rect x="476.74" y="293.50" width="6.20" height="1.70" fill="#2a1f2a"/>
<line x1="490.42" y1="289.00" x2="490.42" y2="291.00" stroke="#222" stroke-width="0.7"/>
<line x1="488.82" y1="289.00" x2="492.02" y2="289.00" stroke="#222" stroke-width="0.8"/>
<rect x="487.32" y="291.00" width="6.20" height="4.20" fill="#30ab3a"/>
<circle cx="490.42" cy="292.47" r="0.7" fill="#3a0a18"/>
<circle cx="490.42" cy="293.94" r="0.7" fill="#3a0a18"/>
<line x1="501.00" y1="285.50" x2="501.00" y2="288.00" stroke="#222" stroke-width="0.7"/>
<line x1="499.40" y1="285.50" x2="502.60" y2="285.50" stroke="#222" stroke-width="0.8"/>
<rect x="497.90" y="288.00" width="6.20" height="7.20" fill="#5a2a6c"/>
<circle cx="501.00" cy="290.52" r="0.7" fill="#3a0a18"/>
<circle cx="501.00" cy="293.04" r="0.7" fill="#3a0a18"/>
<line x1="335.50" y1="311.70" x2="335.50" y2="355.80" stroke="#1a1a1a" stroke-width="1.2"/>
<line x1="333.30" y1="355.50" x2="335.50" y2="355.50" stroke="#1a1a1a" stroke-width="1.0"/>
<text transform="translate(330.20,357.00) scale(1.3,1.0)" font-size="5.1" text-anchor="end" font-weight="normal" fill="#222" stroke="#222" stroke-width="0.1">0</text>
<line x1="333.30" y1="345.50" x2="335.50" y2="345.50" stroke="#1a1a1a" stroke-width="1.0"/>
<text transform="translate(330.20,347.00) scale(1.3,1.0)" font-size="5.1" text-anchor="end" font-weight="normal" fill="#222" stroke="#222" stroke-width="0.1">200</text>
<line x1="333.30" y1="335.50" x2="335.50" y2="335.50" stroke="#1a1a1a" stroke-width="1.0"/>
<text transform="translate(330.20,337.00) scale(1.3,1.0)" font-size="5.1" text-anchor="end" font-weight="normal" fill="#222" stroke="#222" stroke-width="0.1">400</text>
<line x1="333.30" y1="325.50" x2="335.50" y2="325.50" stroke="#1a1a1a" stroke-width="1.0"/>
<text transform="translate(330.20,327.00) scale(1.3,1.0)" font-size="5.1" text-anchor="end" font-weight="normal" fill="#222" stroke="#222" stroke-width="0.1">600</text>
<line x1="333.30" y1="315.50" x2="335.50" y2="315.50" stroke="#1a1a1a" stroke-width="1.0"/>
<text transform="translate(330.20,317.00) scale(1.3,1.0)" font-size="5.1" text-anchor="end" font-weight="normal" fill="#222" stroke="#222" stroke-width="0.1">800</text>
<line x1="335.50" y1="355.50" x2="505.10" y2="355.50" stroke="#1a1a1a" stroke-width="1.2"/>
<line x1="342.50" y1="355.20" x2="342.50" y2="357.80" stroke="#1a1a1a" stroke-width="0.9"/>
<line x1="352.50" y1="355.20" x2="352.50" y2="357.80" stroke="#1a1a1a" stroke-width="0.9"/>
<line x1="363.50" y1="355.20" x2="363.50" y2="357.80" stroke="#1a1a1a" stroke-width="0.9"/>
<line x1="374.50" y1="355.20" x2="374.50" y2="357.80" stroke="#1a1a1a" stroke-width="0.9"/>
<line x1="384.50" y1="355.20" x2="384.50" y2="357.80" stroke="#1a1a1a" stroke-width="0.9"/>
<line x1="395.50" y1="355.20" x2="395.50" y2="357.80" stroke="#1a1a1a" stroke-width="0.9"/>
<line x1="405.50" y1="355.20" x2="405.50" y2="357.80" stroke="#1a1a1a" stroke-width="0.9"/>
<line x1="416.50" y1="355.20" x2="416.50" y2="357.80" stroke="#1a1a1a" stroke-width="0.9"/>
<line x1="426.50" y1="355.20" x2="426.50" y2="357.80" stroke="#1a1a1a" stroke-width="0.9"/>
<line x1="437.50" y1="355.20" x2="437.50" y2="357.80" stroke="#1a1a1a" stroke-width="0.9"/>
<line x1="448.50" y1="355.20" x2="448.50" y2="357.80" stroke="#1a1a1a" stroke-width="0.9"/>
<line x1="458.50" y1="355.20" x2="458.50" y2="357.80" stroke="#1a1a1a" stroke-width="0.9"/>
<line x1="469.50" y1="355.20" x2="469.50" y2="357.80" stroke="#1a1a1a" stroke-width="0.9"/>
<line x1="479.50" y1="355.20" x2="479.50" y2="357.80" stroke="#1a1a1a" stroke-width="0.9"/>
<line x1="490.50" y1="355.20" x2="490.50" y2="357.80" stroke="#1a1a1a" stroke-width="0.9"/>
<line x1="501.50" y1="355.20" x2="501.50" y2="357.80" stroke="#1a1a1a" stroke-width="0.9"/>
<text transform="translate(312.90,333.00) rotate(-90)" font-size="6.9" text-anchor="middle" font-weight="normal" fill="#222" stroke="#222" stroke-width="0.32" textLength="20.60" lengthAdjust="spacingAndGlyphs">12-HETE</text>
<line x1="426.94" y1="345.80" x2="426.94" y2="348.60" stroke="#222" stroke-width="0.7"/>
<line x1="425.34" y1="345.80" x2="428.54" y2="345.80" stroke="#222" stroke-width="0.8"/>
<rect x="423.84" y="348.60" width="6.20" height="6.60" fill="#d0062c"/>
<circle cx="426.94" cy="350.91" r="0.7" fill="#3a0a18"/>
<circle cx="426.94" cy="353.22" r="0.7" fill="#3a0a18"/>
<line x1="437.52" y1="351.70" x2="437.52" y2="352.20" stroke="#222" stroke-width="0.7"/>
<line x1="435.92" y1="351.70" x2="439.12" y2="351.70" stroke="#222" stroke-width="0.8"/>
<rect x="434.42" y="352.20" width="6.20" height="3.00" fill="#3a6fb0"/>
<rect x="445.00" y="353.20" width="6.20" height="2.00" fill="#30ab3a"/>
<rect x="455.58" y="351.30" width="6.20" height="3.90" fill="#5a2a6c"/>
<line x1="469.26" y1="339.50" x2="469.26" y2="341.80" stroke="#222" stroke-width="0.7"/>
<line x1="467.66" y1="339.50" x2="470.86" y2="339.50" stroke="#222" stroke-width="0.8"/>
<rect x="466.16" y="341.80" width="6.20" height="9.90" fill="#d0062c"/>
<circle cx="469.26" cy="345.26" r="0.7" fill="#3a0a18"/>
<circle cx="469.26" cy="348.73" r="0.7" fill="#3a0a18"/>
<line x1="490.42" y1="351.00" x2="490.42" y2="351.90" stroke="#222" stroke-width="0.7"/>
<line x1="488.82" y1="351.00" x2="492.02" y2="351.00" stroke="#222" stroke-width="0.8"/>
<rect x="487.32" y="351.90" width="6.20" height="3.30" fill="#30ab3a"/>
<line x1="501.00" y1="319.40" x2="501.00" y2="325.40" stroke="#222" stroke-width="0.7"/>
<line x1="499.40" y1="319.40" x2="502.60" y2="319.40" stroke="#222" stroke-width="0.8"/>
<rect x="497.90" y="325.40" width="6.20" height="25.00" fill="#5a2a6c"/>
<circle cx="501.00" cy="334.15" r="0.7" fill="#3a0a18"/>
<circle cx="501.00" cy="342.90" r="0.7" fill="#3a0a18"/>
<line x1="335.50" y1="371.50" x2="335.50" y2="415.60" stroke="#1a1a1a" stroke-width="1.2"/>
<line x1="333.30" y1="415.50" x2="335.50" y2="415.50" stroke="#1a1a1a" stroke-width="1.0"/>
<text transform="translate(330.20,416.80) scale(1.3,1.0)" font-size="5.1" text-anchor="end" font-weight="normal" fill="#222" stroke="#222" stroke-width="0.1">0</text>
<line x1="333.30" y1="401.50" x2="335.50" y2="401.50" stroke="#1a1a1a" stroke-width="1.0"/>
<text transform="translate(330.20,403.53) scale(1.3,1.0)" font-size="5.1" text-anchor="end" font-weight="normal" fill="#222" stroke="#222" stroke-width="0.1">2</text>
<line x1="333.30" y1="388.50" x2="335.50" y2="388.50" stroke="#1a1a1a" stroke-width="1.0"/>
<text transform="translate(330.20,390.27) scale(1.3,1.0)" font-size="5.1" text-anchor="end" font-weight="normal" fill="#222" stroke="#222" stroke-width="0.1">4</text>
<line x1="333.30" y1="375.50" x2="335.50" y2="375.50" stroke="#1a1a1a" stroke-width="1.0"/>
<text transform="translate(330.20,377.00) scale(1.3,1.0)" font-size="5.1" text-anchor="end" font-weight="normal" fill="#222" stroke="#222" stroke-width="0.1">6</text>
<line x1="335.50" y1="415.50" x2="505.10" y2="415.50" stroke="#1a1a1a" stroke-width="1.2"/>
<line x1="342.50" y1="415.00" x2="342.50" y2="417.60" stroke="#1a1a1a" stroke-width="0.9"/>
<line x1="352.50" y1="415.00" x2="352.50" y2="417.60" stroke="#1a1a1a" stroke-width="0.9"/>
<line x1="363.50" y1="415.00" x2="363.50" y2="417.60" stroke="#1a1a1a" stroke-width="0.9"/>
<line x1="374.50" y1="415.00" x2="374.50" y2="417.60" stroke="#1a1a1a" stroke-width="0.9"/>
<line x1="384.50" y1="415.00" x2="384.50" y2="417.60" stroke="#1a1a1a" stroke-width="0.9"/>
<line x1="395.50" y1="415.00" x2="395.50" y2="417.60" stroke="#1a1a1a" stroke-width="0.9"/>
<line x1="405.50" y1="415.00" x2="405.50" y2="417.60" stroke="#1a1a1a" stroke-width="0.9"/>
<line x1="416.50" y1="415.00" x2="416.50" y2="417.60" stroke="#1a1a1a" stroke-width="0.9"/>
<line x1="426.50" y1="415.00" x2="426.50" y2="417.60" stroke="#1a1a1a" stroke-width="0.9"/>
<line x1="437.50" y1="415.00" x2="437.50" y2="417.60" stroke="#1a1a1a" stroke-width="0.9"/>
<line x1="448.50" y1="415.00" x2="448.50" y2="417.60" stroke="#1a1a1a" stroke-width="0.9"/>
<line x1="458.50" y1="415.00" x2="458.50" y2="417.60" stroke="#1a1a1a" stroke-width="0.9"/>
<line x1="469.50" y1="415.00" x2="469.50" y2="417.60" stroke="#1a1a1a" stroke-width="0.9"/>
<line x1="479.50" y1="415.00" x2="479.50" y2="417.60" stroke="#1a1a1a" stroke-width="0.9"/>
<line x1="490.50" y1="415.00" x2="490.50" y2="417.60" stroke="#1a1a1a" stroke-width="0.9"/>
<line x1="501.50" y1="415.00" x2="501.50" y2="417.60" stroke="#1a1a1a" stroke-width="0.9"/>
<text transform="translate(312.90,393.00) rotate(-90)" font-size="6.9" text-anchor="middle" font-weight="normal" fill="#222" stroke="#222" stroke-width="0.32" textLength="22.30" lengthAdjust="spacingAndGlyphs">14-HDHA</text>
<line x1="416.36" y1="406.20" x2="416.36" y2="409.00" stroke="#222" stroke-width="0.7"/>
<line x1="414.76" y1="406.20" x2="417.96" y2="406.20" stroke="#222" stroke-width="0.8"/>
<rect x="413.26" y="409.00" width="6.20" height="6.00" fill="#5a2a6c"/>
<circle cx="416.36" cy="411.10" r="0.7" fill="#3a0a18"/>
<circle cx="416.36" cy="413.20" r="0.7" fill="#3a0a18"/>
<line x1="426.94" y1="397.10" x2="426.94" y2="402.20" stroke="#222" stroke-width="0.7"/>
<line x1="425.34" y1="397.10" x2="428.54" y2="397.10" stroke="#222" stroke-width="0.8"/>
<rect x="423.84" y="402.20" width="6.20" height="12.80" fill="#d0062c"/>
<circle cx="426.94" cy="406.68" r="0.7" fill="#3a0a18"/>
<circle cx="426.94" cy="411.16" r="0.7" fill="#3a0a18"/>
<line x1="437.52" y1="408.60" x2="437.52" y2="411.00" stroke="#222" stroke-width="0.7"/>
<line x1="435.92" y1="408.60" x2="439.12" y2="408.60" stroke="#222" stroke-width="0.8"/>
<rect x="434.42" y="411.00" width="6.20" height="4.00" fill="#2762a8"/>
<rect x="445.00" y="410.40" width="6.20" height="4.60" fill="#30ab3a"/>
<circle cx="448.10" cy="412.01" r="0.7" fill="#3a0a18"/>
<circle cx="448.10" cy="413.62" r="0.7" fill="#3a0a18"/>
<line x1="458.68" y1="406.20" x2="458.68" y2="408.00" stroke="#222" stroke-width="0.7"/>
<line x1="457.08" y1="406.20" x2="460.28" y2="406.20" stroke="#222" stroke-width="0.8"/>
<rect x="455.58" y="408.00" width="6.20" height="7.00" fill="#5a2a6c"/>
<circle cx="458.68" cy="410.45" r="0.7" fill="#3a0a18"/>
<circle cx="458.68" cy="412.90" r="0.7" fill="#3a0a18"/>
<line x1="469.26" y1="377.50" x2="469.26" y2="383.90" stroke="#222" stroke-width="0.7"/>
<line x1="467.66" y1="377.50" x2="470.86" y2="377.50" stroke="#222" stroke-width="0.8"/>
<rect x="466.16" y="383.90" width="6.20" height="24.70" fill="#d0062c"/>
<circle cx="469.26" cy="392.55" r="0.7" fill="#3a0a18"/>
<circle cx="469.26" cy="401.19" r="0.7" fill="#3a0a18"/>
<rect x="487.32" y="410.40" width="6.20" height="4.60" fill="#30ab3a"/>
<circle cx="490.42" cy="412.01" r="0.7" fill="#3a0a18"/>
<circle cx="490.42" cy="413.62" r="0.7" fill="#3a0a18"/>
<line x1="501.00" y1="391.20" x2="501.00" y2="391.60" stroke="#222" stroke-width="0.7"/>
<line x1="499.40" y1="391.20" x2="502.60" y2="391.20" stroke="#222" stroke-width="0.8"/>
<rect x="497.90" y="391.60" width="6.20" height="19.40" fill="#5a2a6c"/>
<circle cx="501.00" cy="398.39" r="0.7" fill="#3a0a18"/>
<circle cx="501.00" cy="405.18" r="0.7" fill="#3a0a18"/>
<line x1="335.50" y1="431.10" x2="335.50" y2="475.20" stroke="#1a1a1a" stroke-width="1.2"/>
<line x1="333.30" y1="474.50" x2="335.50" y2="474.50" stroke="#1a1a1a" stroke-width="1.0"/>
<text transform="translate(330.20,476.40) scale(1.3,1.0)" font-size="5.1" text-anchor="end" font-weight="normal" fill="#222" stroke="#222" stroke-width="0.1">0.0</text>
<line x1="333.30" y1="466.50" x2="335.50" y2="466.50" stroke="#1a1a1a" stroke-width="1.0"/>
<text transform="translate(330.20,468.52) scale(1.3,1.0)" font-size="5.1" text-anchor="end" font-weight="normal" fill="#222" stroke="#222" stroke-width="0.1">0.5</text>
<line x1="333.30" y1="458.50" x2="335.50" y2="458.50" stroke="#1a1a1a" stroke-width="1.0"/>
<text transform="translate(330.20,460.64) scale(1.3,1.0)" font-size="5.1" text-anchor="end" font-weight="normal" fill="#222" stroke="#222" stroke-width="0.1">1.0</text>
<line x1="333.30" y1="450.50" x2="335.50" y2="450.50" stroke="#1a1a1a" stroke-width="1.0"/>
<text transform="translate(330.20,452.76) scale(1.3,1.0)" font-size="5.1" text-anchor="end" font-weight="normal" fill="#222" stroke="#222" stroke-width="0.1">1.5</text>
<line x1="333.30" y1="443.50" x2="335.50" y2="443.50" stroke="#1a1a1a" stroke-width="1.0"/>
<text transform="translate(330.20,444.88) scale(1.3,1.0)" font-size="5.1" text-anchor="end" font-weight="normal" fill="#222" stroke="#222" stroke-width="0.1">2.0</text>
<line x1="333.30" y1="435.50" x2="335.50" y2="435.50" stroke="#1a1a1a" stroke-width="1.0"/>
<text transform="translate(330.20,437.00) scale(1.3,1.0)" font-size="5.1" text-anchor="end" font-weight="normal" fill="#222" stroke="#222" stroke-width="0.1">2.5</text>
<line x1="335.50" y1="474.50" x2="505.10" y2="474.50" stroke="#1a1a1a" stroke-width="1.2"/>
<line x1="342.50" y1="474.60" x2="342.50" y2="477.20" stroke="#1a1a1a" stroke-width="0.9"/>
<line x1="352.50" y1="474.60" x2="352.50" y2="477.20" stroke="#1a1a1a" stroke-width="0.9"/>
<line x1="363.50" y1="474.60" x2="363.50" y2="477.20" stroke="#1a1a1a" stroke-width="0.9"/>
<line x1="374.50" y1="474.60" x2="374.50" y2="477.20" stroke="#1a1a1a" stroke-width="0.9"/>
<line x1="384.50" y1="474.60" x2="384.50" y2="477.20" stroke="#1a1a1a" stroke-width="0.9"/>
<line x1="395.50" y1="474.60" x2="395.50" y2="477.20" stroke="#1a1a1a" stroke-width="0.9"/>
<line x1="405.50" y1="474.60" x2="405.50" y2="477.20" stroke="#1a1a1a" stroke-width="0.9"/>
<line x1="416.50" y1="474.60" x2="416.50" y2="477.20" stroke="#1a1a1a" stroke-width="0.9"/>
<line x1="426.50" y1="474.60" x2="426.50" y2="477.20" stroke="#1a1a1a" stroke-width="0.9"/>
<line x1="437.50" y1="474.60" x2="437.50" y2="477.20" stroke="#1a1a1a" stroke-width="0.9"/>
<line x1="448.50" y1="474.60" x2="448.50" y2="477.20" stroke="#1a1a1a" stroke-width="0.9"/>
<line x1="458.50" y1="474.60" x2="458.50" y2="477.20" stroke="#1a1a1a" stroke-width="0.9"/>
<line x1="469.50" y1="474.60" x2="469.50" y2="477.20" stroke="#1a1a1a" stroke-width="0.9"/>
<line x1="479.50" y1="474.60" x2="479.50" y2="477.20" stroke="#1a1a1a" stroke-width="0.9"/>
<line x1="490.50" y1="474.60" x2="490.50" y2="477.20" stroke="#1a1a1a" stroke-width="0.9"/>
<line x1="501.50" y1="474.60" x2="501.50" y2="477.20" stroke="#1a1a1a" stroke-width="0.9"/>
<text transform="translate(312.90,452.80) rotate(-90)" font-size="6.9" text-anchor="middle" font-weight="normal" fill="#222" stroke="#222" stroke-width="0.32" textLength="14.10" lengthAdjust="spacingAndGlyphs">PGD2</text>
<line x1="426.94" y1="461.80" x2="426.94" y2="465.50" stroke="#222" stroke-width="0.7"/>
<line x1="425.34" y1="461.80" x2="428.54" y2="461.80" stroke="#222" stroke-width="0.8"/>
<rect x="423.84" y="465.50" width="6.20" height="9.10" fill="#d0062c"/>
<circle cx="426.94" cy="468.69" r="0.7" fill="#3a0a18"/>
<circle cx="426.94" cy="471.87" r="0.7" fill="#3a0a18"/>
<line x1="437.52" y1="471.00" x2="437.52" y2="471.70" stroke="#222" stroke-width="0.7"/>
<line x1="435.92" y1="471.00" x2="439.12" y2="471.00" stroke="#222" stroke-width="0.8"/>
<rect x="434.42" y="471.70" width="6.20" height="2.90" fill="#2762a8"/>
<line x1="448.10" y1="469.10" x2="448.10" y2="470.40" stroke="#222" stroke-width="0.7"/>
<line x1="446.50" y1="469.10" x2="449.70" y2="469.10" stroke="#222" stroke-width="0.8"/>
<rect x="445.00" y="470.40" width="6.20" height="4.20" fill="#30ab3a"/>
<circle cx="448.10" cy="471.87" r="0.7" fill="#3a0a18"/>
<circle cx="448.10" cy="473.34" r="0.7" fill="#3a0a18"/>
<line x1="469.26" y1="439.90" x2="469.26" y2="447.90" stroke="#222" stroke-width="0.7"/>
<line x1="467.66" y1="439.90" x2="470.86" y2="439.90" stroke="#222" stroke-width="0.8"/>
<rect x="466.16" y="447.90" width="6.20" height="26.70" fill="#d0062c"/>
<circle cx="469.26" cy="457.25" r="0.7" fill="#3a0a18"/>
<circle cx="469.26" cy="466.59" r="0.7" fill="#3a0a18"/>
<line x1="335.50" y1="490.70" x2="335.50" y2="534.80" stroke="#1a1a1a" stroke-width="1.2"/>
<line x1="333.30" y1="534.50" x2="335.50" y2="534.50" stroke="#1a1a1a" stroke-width="1.0"/>
<text transform="translate(330.20,536.00) scale(1.3,1.0)" font-size="5.1" text-anchor="end" font-weight="normal" fill="#222" stroke="#222" stroke-width="0.1">0</text>
<line x1="333.30" y1="521.50" x2="335.50" y2="521.50" stroke="#1a1a1a" stroke-width="1.0"/>
<text transform="translate(330.20,522.80) scale(1.3,1.0)" font-size="5.1" text-anchor="end" font-weight="normal" fill="#222" stroke="#222" stroke-width="0.1">2</text>
<line x1="333.30" y1="507.50" x2="335.50" y2="507.50" stroke="#1a1a1a" stroke-width="1.0"/>
<text transform="translate(330.20,509.60) scale(1.3,1.0)" font-size="5.1" text-anchor="end" font-weight="normal" fill="#222" stroke="#222" stroke-width="0.1">4</text>
<line x1="333.30" y1="494.50" x2="335.50" y2="494.50" stroke="#1a1a1a" stroke-width="1.0"/>
<text transform="translate(330.20,496.40) scale(1.3,1.0)" font-size="5.1" text-anchor="end" font-weight="normal" fill="#222" stroke="#222" stroke-width="0.1">6</text>
<line x1="335.50" y1="534.50" x2="505.10" y2="534.50" stroke="#1a1a1a" stroke-width="1.2"/>
<line x1="342.50" y1="534.20" x2="342.50" y2="536.80" stroke="#1a1a1a" stroke-width="0.9"/>
<line x1="352.50" y1="534.20" x2="352.50" y2="536.80" stroke="#1a1a1a" stroke-width="0.9"/>
<line x1="363.50" y1="534.20" x2="363.50" y2="536.80" stroke="#1a1a1a" stroke-width="0.9"/>
<line x1="374.50" y1="534.20" x2="374.50" y2="536.80" stroke="#1a1a1a" stroke-width="0.9"/>
<line x1="384.50" y1="534.20" x2="384.50" y2="536.80" stroke="#1a1a1a" stroke-width="0.9"/>
<line x1="395.50" y1="534.20" x2="395.50" y2="536.80" stroke="#1a1a1a" stroke-width="0.9"/>
<line x1="405.50" y1="534.20" x2="405.50" y2="536.80" stroke="#1a1a1a" stroke-width="0.9"/>
<line x1="416.50" y1="534.20" x2="416.50" y2="536.80" stroke="#1a1a1a" stroke-width="0.9"/>
<line x1="426.50" y1="534.20" x2="426.50" y2="536.80" stroke="#1a1a1a" stroke-width="0.9"/>
<line x1="437.50" y1="534.20" x2="437.50" y2="536.80" stroke="#1a1a1a" stroke-width="0.9"/>
<line x1="448.50" y1="534.20" x2="448.50" y2="536.80" stroke="#1a1a1a" stroke-width="0.9"/>
<line x1="458.50" y1="534.20" x2="458.50" y2="536.80" stroke="#1a1a1a" stroke-width="0.9"/>
<line x1="469.50" y1="534.20" x2="469.50" y2="536.80" stroke="#1a1a1a" stroke-width="0.9"/>
<line x1="479.50" y1="534.20" x2="479.50" y2="536.80" stroke="#1a1a1a" stroke-width="0.9"/>
<line x1="490.50" y1="534.20" x2="490.50" y2="536.80" stroke="#1a1a1a" stroke-width="0.9"/>
<line x1="501.50" y1="534.20" x2="501.50" y2="536.80" stroke="#1a1a1a" stroke-width="0.9"/>
<text transform="translate(312.90,512.80) rotate(-90)" font-size="6.9" text-anchor="middle" font-weight="normal" fill="#222" stroke="#222" stroke-width="0.32" textLength="14.10" lengthAdjust="spacingAndGlyphs">PGE2</text>
<rect x="339.20" y="532.80" width="6.20" height="1.40" fill="#2a1f2a"/>
<rect x="360.36" y="532.60" width="6.20" height="1.60" fill="#2a1f2a"/>
<rect x="381.52" y="532.20" width="6.20" height="2.00" fill="#2a1f2a"/>
<rect x="402.68" y="532.00" width="6.20" height="2.20" fill="#2e7a34"/>
<line x1="426.94" y1="516.30" x2="426.94" y2="520.90" stroke="#222" stroke-width="0.7"/>
<line x1="425.34" y1="516.30" x2="428.54" y2="516.30" stroke="#222" stroke-width="0.8"/>
<rect x="423.84" y="520.90" width="6.20" height="13.30" fill="#d0062c"/>
<circle cx="426.94" cy="525.55" r="0.7" fill="#3a0a18"/>
<circle cx="426.94" cy="530.21" r="0.7" fill="#3a0a18"/>
<line x1="437.52" y1="528.20" x2="437.52" y2="530.00" stroke="#222" stroke-width="0.7"/>
<line x1="435.92" y1="528.20" x2="439.12" y2="528.20" stroke="#222" stroke-width="0.8"/>
<rect x="434.42" y="530.00" width="6.20" height="4.20" fill="#2762a8"/>
<circle cx="437.52" cy="531.47" r="0.7" fill="#3a0a18"/>
<circle cx="437.52" cy="532.94" r="0.7" fill="#3a0a18"/>
<line x1="448.10" y1="526.40" x2="448.10" y2="528.00" stroke="#222" stroke-width="0.7"/>
<line x1="446.50" y1="526.40" x2="449.70" y2="526.40" stroke="#222" stroke-width="0.8"/>
<rect x="445.00" y="528.00" width="6.20" height="6.20" fill="#30ab3a"/>
<circle cx="448.10" cy="530.17" r="0.7" fill="#3a0a18"/>
<circle cx="448.10" cy="532.34" r="0.7" fill="#3a0a18"/>
<line x1="469.26" y1="498.40" x2="469.26" y2="503.90" stroke="#222" stroke-width="0.7"/>
<line x1="467.66" y1="498.40" x2="470.86" y2="498.40" stroke="#222" stroke-width="0.8"/>
<rect x="466.16" y="503.90" width="6.20" height="27.40" fill="#d0062c"/>
<circle cx="469.26" cy="513.49" r="0.7" fill="#3a0a18"/>
<circle cx="469.26" cy="523.08" r="0.7" fill="#3a0a18"/>
<rect x="476.74" y="533.00" width="6.20" height="1.20" fill="#2a1f2a"/>
<rect x="487.32" y="529.10" width="6.20" height="5.10" fill="#30ab3a"/>
<circle cx="490.42" cy="530.88" r="0.7" fill="#3a0a18"/>
<circle cx="490.42" cy="532.67" r="0.7" fill="#3a0a18"/>
<rect x="497.90" y="533.00" width="6.20" height="1.20" fill="#2a1f2a"/>
<line x1="335.50" y1="553.80" x2="335.50" y2="597.90" stroke="#1a1a1a" stroke-width="1.2"/>
<line x1="333.40" y1="597.50" x2="335.60" y2="597.50" stroke="#1a1a1a" stroke-width="1.0"/>
<text transform="translate(330.30,599.10) scale(1.3,1.0)" font-size="5.1" text-anchor="end" font-weight="normal" fill="#222" stroke="#222" stroke-width="0.1">0</text>
<line x1="333.40" y1="584.50" x2="335.60" y2="584.50" stroke="#1a1a1a" stroke-width="1.0"/>
<text transform="translate(330.30,585.80) scale(1.3,1.0)" font-size="5.1" text-anchor="end" font-weight="normal" fill="#222" stroke="#222" stroke-width="0.1">100</text>
<line x1="333.40" y1="570.50" x2="335.60" y2="570.50" stroke="#1a1a1a" stroke-width="1.0"/>
<text transform="translate(330.30,572.50) scale(1.3,1.0)" font-size="5.1" text-anchor="end" font-weight="normal" fill="#222" stroke="#222" stroke-width="0.1">200</text>
<line x1="333.40" y1="557.50" x2="335.60" y2="557.50" stroke="#1a1a1a" stroke-width="1.0"/>
<text transform="translate(330.30,559.20) scale(1.3,1.0)" font-size="5.1" text-anchor="end" font-weight="normal" fill="#222" stroke="#222" stroke-width="0.1">300</text>
<line x1="335.60" y1="597.50" x2="505.20" y2="597.50" stroke="#1a1a1a" stroke-width="1.2"/>
<line x1="342.50" y1="597.30" x2="342.50" y2="599.90" stroke="#1a1a1a" stroke-width="0.9"/>
<line x1="352.50" y1="597.30" x2="352.50" y2="599.90" stroke="#1a1a1a" stroke-width="0.9"/>
<line x1="363.50" y1="597.30" x2="363.50" y2="599.90" stroke="#1a1a1a" stroke-width="0.9"/>
<line x1="374.50" y1="597.30" x2="374.50" y2="599.90" stroke="#1a1a1a" stroke-width="0.9"/>
<line x1="384.50" y1="597.30" x2="384.50" y2="599.90" stroke="#1a1a1a" stroke-width="0.9"/>
<line x1="395.50" y1="597.30" x2="395.50" y2="599.90" stroke="#1a1a1a" stroke-width="0.9"/>
<line x1="405.50" y1="597.30" x2="405.50" y2="599.90" stroke="#1a1a1a" stroke-width="0.9"/>
<line x1="416.50" y1="597.30" x2="416.50" y2="599.90" stroke="#1a1a1a" stroke-width="0.9"/>
<line x1="427.50" y1="597.30" x2="427.50" y2="599.90" stroke="#1a1a1a" stroke-width="0.9"/>
<line x1="437.50" y1="597.30" x2="437.50" y2="599.90" stroke="#1a1a1a" stroke-width="0.9"/>
<line x1="448.50" y1="597.30" x2="448.50" y2="599.90" stroke="#1a1a1a" stroke-width="0.9"/>
<line x1="458.50" y1="597.30" x2="458.50" y2="599.90" stroke="#1a1a1a" stroke-width="0.9"/>
<line x1="469.50" y1="597.30" x2="469.50" y2="599.90" stroke="#1a1a1a" stroke-width="0.9"/>
<line x1="479.50" y1="597.30" x2="479.50" y2="599.90" stroke="#1a1a1a" stroke-width="0.9"/>
<line x1="490.50" y1="597.30" x2="490.50" y2="599.90" stroke="#1a1a1a" stroke-width="0.9"/>
<line x1="501.50" y1="597.30" x2="501.50" y2="599.90" stroke="#1a1a1a" stroke-width="0.9"/>
<text transform="translate(312.90,575.70) rotate(-90)" font-size="6.9" text-anchor="middle" font-weight="normal" fill="#222" stroke="#222" stroke-width="0.32" textLength="11.60" lengthAdjust="spacingAndGlyphs">TxB2</text>
<rect x="339.30" y="595.80" width="6.20" height="1.50" fill="#2a1f2a"/>
<line x1="427.04" y1="574.20" x2="427.04" y2="580.10" stroke="#222" stroke-width="0.7"/>
<line x1="425.44" y1="574.20" x2="428.64" y2="574.20" stroke="#222" stroke-width="0.8"/>
<rect x="423.94" y="580.10" width="6.20" height="17.20" fill="#d0062c"/>
<circle cx="427.04" cy="586.12" r="0.7" fill="#3a0a18"/>
<circle cx="427.04" cy="592.14" r="0.7" fill="#3a0a18"/>
<line x1="437.62" y1="585.60" x2="437.62" y2="589.20" stroke="#222" stroke-width="0.7"/>
<line x1="436.02" y1="585.60" x2="439.22" y2="585.60" stroke="#222" stroke-width="0.8"/>
<rect x="434.52" y="589.20" width="6.20" height="8.10" fill="#2762a8"/>
<circle cx="437.62" cy="592.03" r="0.7" fill="#3a0a18"/>
<circle cx="437.62" cy="594.87" r="0.7" fill="#3a0a18"/>
<line x1="448.20" y1="588.50" x2="448.20" y2="591.00" stroke="#222" stroke-width="0.7"/>
<line x1="446.60" y1="588.50" x2="449.80" y2="588.50" stroke="#222" stroke-width="0.8"/>
<rect x="445.10" y="591.00" width="6.20" height="6.30" fill="#30ab3a"/>
<circle cx="448.20" cy="593.20" r="0.7" fill="#3a0a18"/>
<circle cx="448.20" cy="595.41" r="0.7" fill="#3a0a18"/>
<line x1="469.36" y1="558.30" x2="469.36" y2="566.00" stroke="#222" stroke-width="0.7"/>
<line x1="467.76" y1="558.30" x2="470.96" y2="558.30" stroke="#222" stroke-width="0.8"/>
<rect x="466.26" y="566.00" width="6.20" height="28.70" fill="#d0062c"/>
<circle cx="469.36" cy="576.05" r="0.7" fill="#3a0a18"/>
<circle cx="469.36" cy="586.09" r="0.7" fill="#3a0a18"/>
<line x1="490.52" y1="589.20" x2="490.52" y2="592.00" stroke="#222" stroke-width="0.7"/>
<line x1="488.92" y1="589.20" x2="492.12" y2="589.20" stroke="#222" stroke-width="0.8"/>
<rect x="487.42" y="592.00" width="6.20" height="5.30" fill="#30ab3a"/>
<circle cx="490.52" cy="593.86" r="0.7" fill="#3a0a18"/>
<circle cx="490.52" cy="595.71" r="0.7" fill="#3a0a18"/>
<text transform="translate(310.40,608.30)" font-size="6.0" text-anchor="start" font-weight="normal" fill="#222" stroke="#222" stroke-width="0.2" textLength="18.10" lengthAdjust="spacingAndGlyphs">oxLDL:</text>
<text transform="translate(289.60,619.00)" font-size="6.0" text-anchor="start" font-weight="normal" fill="#222" stroke="#222" stroke-width="0.2" textLength="38.90" lengthAdjust="spacingAndGlyphs">GPVI agonist:</text>
<text transform="translate(305.30,629.50)" font-size="6.0" text-anchor="start" font-weight="normal" fill="#222" stroke="#222" stroke-width="0.2" textLength="23.20" lengthAdjust="spacingAndGlyphs">inhibitor:</text>
<line x1="340.90" y1="607.40" x2="343.90" y2="607.40" stroke="#333" stroke-width="0.8"/>
<line x1="340.90" y1="617.60" x2="343.90" y2="617.60" stroke="#333" stroke-width="0.8"/>
<line x1="351.48" y1="607.40" x2="354.48" y2="607.40" stroke="#333" stroke-width="0.8"/>
<line x1="351.48" y1="617.60" x2="354.48" y2="617.60" stroke="#333" stroke-width="0.8"/>
<line x1="362.06" y1="607.40" x2="365.06" y2="607.40" stroke="#333" stroke-width="0.8"/>
<line x1="362.06" y1="617.60" x2="365.06" y2="617.60" stroke="#333" stroke-width="0.8"/>
<line x1="372.64" y1="607.40" x2="375.64" y2="607.40" stroke="#333" stroke-width="0.8"/>
<line x1="372.64" y1="617.60" x2="375.64" y2="617.60" stroke="#333" stroke-width="0.8"/>
<line x1="383.12" y1="607.40" x2="386.32" y2="607.40" stroke="#333" stroke-width="0.8"/>
<line x1="384.72" y1="605.80" x2="384.72" y2="609.00" stroke="#333" stroke-width="0.8"/>
<line x1="383.22" y1="617.60" x2="386.22" y2="617.60" stroke="#333" stroke-width="0.8"/>
<line x1="393.70" y1="607.40" x2="396.90" y2="607.40" stroke="#333" stroke-width="0.8"/>
<line x1="395.30" y1="605.80" x2="395.30" y2="609.00" stroke="#333" stroke-width="0.8"/>
<line x1="393.80" y1="617.60" x2="396.80" y2="617.60" stroke="#333" stroke-width="0.8"/>
<line x1="404.28" y1="607.40" x2="407.48" y2="607.40" stroke="#333" stroke-width="0.8"/>
<line x1="405.88" y1="605.80" x2="405.88" y2="609.00" stroke="#333" stroke-width="0.8"/>
<line x1="404.38" y1="617.60" x2="407.38" y2="617.60" stroke="#333" stroke-width="0.8"/>
<line x1="414.86" y1="607.40" x2="418.06" y2="607.40" stroke="#333" stroke-width="0.8"/>
<line x1="416.46" y1="605.80" x2="416.46" y2="609.00" stroke="#333" stroke-width="0.8"/>
<line x1="414.96" y1="617.60" x2="417.96" y2="617.60" stroke="#333" stroke-width="0.8"/>
<line x1="425.54" y1="607.40" x2="428.54" y2="607.40" stroke="#333" stroke-width="0.8"/>
<line x1="425.44" y1="617.60" x2="428.64" y2="617.60" stroke="#333" stroke-width="0.8"/>
<line x1="427.04" y1="616.00" x2="427.04" y2="619.20" stroke="#333" stroke-width="0.8"/>
<line x1="436.12" y1="607.40" x2="439.12" y2="607.40" stroke="#333" stroke-width="0.8"/>
<line x1="436.02" y1="617.60" x2="439.22" y2="617.60" stroke="#333" stroke-width="0.8"/>
<line x1="437.62" y1="616.00" x2="437.62" y2="619.20" stroke="#333" stroke-width="0.8"/>
<line x1="446.70" y1="607.40" x2="449.70" y2="607.40" stroke="#333" stroke-width="0.8"/>
<line x1="446.60" y1="617.60" x2="449.80" y2="617.60" stroke="#333" stroke-width="0.8"/>
<line x1="448.20" y1="616.00" x2="448.20" y2="619.20" stroke="#333" stroke-width="0.8"/>
<line x1="457.28" y1="607.40" x2="460.28" y2="607.40" stroke="#333" stroke-width="0.8"/>
<line x1="457.18" y1="617.60" x2="460.38" y2="617.60" stroke="#333" stroke-width="0.8"/>
<line x1="458.78" y1="616.00" x2="458.78" y2="619.20" stroke="#333" stroke-width="0.8"/>
<line x1="467.76" y1="607.40" x2="470.96" y2="607.40" stroke="#333" stroke-width="0.8"/>
<line x1="469.36" y1="605.80" x2="469.36" y2="609.00" stroke="#333" stroke-width="0.8"/>
<line x1="467.76" y1="617.60" x2="470.96" y2="617.60" stroke="#333" stroke-width="0.8"/>
<line x1="469.36" y1="616.00" x2="469.36" y2="619.20" stroke="#333" stroke-width="0.8"/>
<line x1="478.34" y1="607.40" x2="481.54" y2="607.40" stroke="#333" stroke-width="0.8"/>
<line x1="479.94" y1="605.80" x2="479.94" y2="609.00" stroke="#333" stroke-width="0.8"/>
<line x1="478.34" y1="617.60" x2="481.54" y2="617.60" stroke="#333" stroke-width="0.8"/>
<line x1="479.94" y1="616.00" x2="479.94" y2="619.20" stroke="#333" stroke-width="0.8"/>
<line x1="488.92" y1="607.40" x2="492.12" y2="607.40" stroke="#333" stroke-width="0.8"/>
<line x1="490.52" y1="605.80" x2="490.52" y2="609.00" stroke="#333" stroke-width="0.8"/>
<line x1="488.92" y1="617.60" x2="492.12" y2="617.60" stroke="#333" stroke-width="0.8"/>
<line x1="490.52" y1="616.00" x2="490.52" y2="619.20" stroke="#333" stroke-width="0.8"/>
<line x1="499.50" y1="607.40" x2="502.70" y2="607.40" stroke="#333" stroke-width="0.8"/>
<line x1="501.10" y1="605.80" x2="501.10" y2="609.00" stroke="#333" stroke-width="0.8"/>
<line x1="499.50" y1="617.60" x2="502.70" y2="617.60" stroke="#333" stroke-width="0.8"/>
<line x1="501.10" y1="616.00" x2="501.10" y2="619.20" stroke="#333" stroke-width="0.8"/>
<text transform="translate(343.70,629.20) rotate(-45)" font-size="5.8" text-anchor="end" font-weight="normal" fill="#222" stroke="#222" stroke-width="0.2">veh</text>
<text transform="translate(354.28,629.20) rotate(-45)" font-size="5.8" text-anchor="end" font-weight="normal" fill="#222" stroke="#222" stroke-width="0.2">Ibru</text>
<text transform="translate(364.86,629.20) rotate(-45)" font-size="5.8" text-anchor="end" font-weight="normal" fill="#222" stroke="#222" stroke-width="0.2">Tica</text>
<text transform="translate(375.44,629.20) rotate(-45)" font-size="5.8" text-anchor="end" font-weight="normal" fill="#222" stroke="#222" stroke-width="0.2">ASA</text>
<text transform="translate(386.02,629.20) rotate(-45)" font-size="5.8" text-anchor="end" font-weight="normal" fill="#222" stroke="#222" stroke-width="0.2">veh</text>
<text transform="translate(396.60,629.20) rotate(-45)" font-size="5.8" text-anchor="end" font-weight="normal" fill="#222" stroke="#222" stroke-width="0.2">Ibru</text>
<text transform="translate(407.18,629.20) rotate(-45)" font-size="5.8" text-anchor="end" font-weight="normal" fill="#222" stroke="#222" stroke-width="0.2">Tica</text>
<text transform="translate(417.76,629.20) rotate(-45)" font-size="5.8" text-anchor="end" font-weight="normal" fill="#222" stroke="#222" stroke-width="0.2">ASA</text>
<text transform="translate(428.34,629.20) rotate(-45)" font-size="5.8" text-anchor="end" font-weight="normal" fill="#222" stroke="#222" stroke-width="0.2">veh</text>
<text transform="translate(438.92,629.20) rotate(-45)" font-size="5.8" text-anchor="end" font-weight="normal" fill="#222" stroke="#222" stroke-width="0.2">Ibru</text>
<text transform="translate(449.50,629.20) rotate(-45)" font-size="5.8" text-anchor="end" font-weight="normal" fill="#222" stroke="#222" stroke-width="0.2">Tica</text>
<text transform="translate(460.08,629.20) rotate(-45)" font-size="5.8" text-anchor="end" font-weight="normal" fill="#222" stroke="#222" stroke-width="0.2">ASA</text>
<text transform="translate(470.66,629.20) rotate(-45)" font-size="5.8" text-anchor="end" font-weight="normal" fill="#222" stroke="#222" stroke-width="0.2">veh</text>
<text transform="translate(481.24,629.20) rotate(-45)" font-size="5.8" text-anchor="end" font-weight="normal" fill="#222" stroke="#222" stroke-width="0.2">Ibru</text>
<text transform="translate(491.82,629.20) rotate(-45)" font-size="5.8" text-anchor="end" font-weight="normal" fill="#222" stroke="#222" stroke-width="0.2">Tica</text>
<text transform="translate(502.40,629.20) rotate(-45)" font-size="5.8" text-anchor="end" font-weight="normal" fill="#222" stroke="#222" stroke-width="0.2">ASA</text>
</g>
</svg>
</body></html>
